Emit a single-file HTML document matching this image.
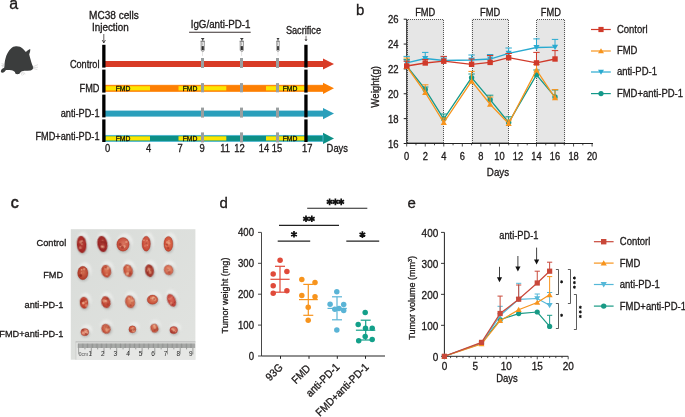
<!DOCTYPE html>
<html><head><meta charset="utf-8"><style>
html,body{margin:0;padding:0;background:#fff;width:685px;height:417px;overflow:hidden}
svg{display:block;will-change:transform;opacity:0.999}
text{font-family:"Liberation Sans",sans-serif;stroke:currentColor;stroke-width:0.28px;paint-order:stroke}
</style></head><body>
<svg width="685" height="417" viewBox="0 0 685 417">
<rect width="685" height="417" fill="#fff"/>
<text class="noscale" x="9.2" y="8.6" font-size="16" fill="#1e1a1a">a</text>
<path d="M16,46.3 C19,46.2 21,47 22.3,48.2 C23.8,49.6 25,51 25.9,51.9 C27.2,50.8 28.8,49.6 30.2,49.1 C30.5,50.8 29.8,53 29.2,54.3 C29.6,56.5 30.6,59.5 31.5,62.7 C32.3,65 33.2,66.8 33.3,68 C33,69.2 32,70 30.7,70.4 C28.5,70.6 26.5,70.5 24.5,70.8 C22.5,71.1 21.3,71.5 20.6,72.2 C20,73.5 19,74.2 17.4,74.2 C15.8,74.2 15,73.4 15,72.2 C14.2,71.2 13,70.6 11.5,70.3 C9.5,70 7.5,69.9 6,70 C5,71.5 3.8,72.8 2.4,72.8 C1,72.8 0.6,71.6 1,70.5 C1.6,69.3 2.8,68.5 4.3,67.6 C4.4,64.5 4.7,61 5.5,58.4 C6.5,54.5 8.3,51 11,48.5 C12.5,47.1 14.2,46.3 16,46.3 Z" fill="#3b3d3d"/>
<path d="M32.8,66.8 L38,64.6 M33,67.6 L38,67.2 M32.8,68.3 L37.4,69.6 M20.8,72 L22.2,75.6 M21.8,71.6 L24,75 M23,71.4 L25.2,74.2" stroke="#bdbdbd" stroke-width="0.45"/>
<path d="M4.6,64.6 L1.6,63.6 M4.6,65.2 L1.4,65.6 M4.6,65.8 L2,67" stroke="#b0b0b0" stroke-width="0.45"/>
<text transform="translate(99.5,68.2) scale(0.915,1)" font-size="10.05" text-anchor="end" fill="#1e1a1a">Control</text>
<text transform="translate(99.5,92.2) scale(0.915,1)" font-size="10.05" text-anchor="end" fill="#1e1a1a">FMD</text>
<text transform="translate(99.5,116.6) scale(0.915,1)" font-size="10.05" text-anchor="end" fill="#1e1a1a">anti-PD-1</text>
<text transform="translate(99.5,140) scale(0.915,1)" font-size="10.05" text-anchor="end" fill="#1e1a1a">FMD+anti-PD-1</text>
<text x="89" y="18.8" font-size="10" textLength="49.8" lengthAdjust="spacingAndGlyphs" fill="#1e1a1a">MC38 cells</text>
<text x="92" y="30.5" font-size="10" textLength="36.8" lengthAdjust="spacingAndGlyphs" fill="#1e1a1a">Injection</text>
<line x1="103.8" y1="34" x2="103.8" y2="42.5" stroke="#1e1a1a" stroke-width="0.7"/>
<path d="M102.2,40 L103.8,43 L105.4,40" fill="none" stroke="#1e1a1a" stroke-width="0.7"/>
<text x="190.7" y="28.1" font-size="10" textLength="59.7" lengthAdjust="spacingAndGlyphs" fill="#1e1a1a">IgG/anti-PD-1</text>
<line x1="189.1" y1="32.2" x2="250.7" y2="32.2" stroke="#3a3030" stroke-width="1.1"/>
<text x="285.9" y="34.4" font-size="10" textLength="35.1" lengthAdjust="spacingAndGlyphs" fill="#1e1a1a">Sacrifice</text>
<line x1="306" y1="35.8" x2="306" y2="40.8" stroke="#1e1a1a" stroke-width="0.6"/>
<path d="M305,39 L306,41 L307,39" fill="none" stroke="#1e1a1a" stroke-width="0.6"/>
<rect x="104" y="61" width="219" height="6" fill="#d83b26"/>
<path d="M323,58.4 L334,64.0 L323,69.6 Z" fill="#d83b26"/>
<rect x="104" y="85.3" width="219" height="6" fill="#fd7f03"/>
<path d="M323,82.7 L334,88.3 L323,93.89999999999999 Z" fill="#fd7f03"/>
<rect x="104" y="110.6" width="219" height="6" fill="#2a9fbb"/>
<path d="M323,108.0 L334,113.6 L323,119.19999999999999 Z" fill="#2a9fbb"/>
<rect x="104" y="135.4" width="219" height="6" fill="#0c8f86"/>
<path d="M323,132.8 L334,138.4 L323,144.0 Z" fill="#0c8f86"/>
<rect x="104" y="85.3" width="219" height="6" fill="none" stroke="#fd7f03" stroke-width="0.9"/>
<rect x="105.5" y="86.2" width="44.5" height="4.2" fill="#fce600"/>
<rect x="178.5" y="86.2" width="47.80000000000001" height="4.2" fill="#fce600"/>
<rect x="266" y="86.2" width="39" height="4.2" fill="#fce600"/>
<text transform="translate(123,90.8) scale(0.915,1)" font-size="7.43" text-anchor="middle" fill="#111" stroke="#111" stroke-width="0.15">FMD</text>
<text transform="translate(190,90.8) scale(0.915,1)" font-size="7.43" text-anchor="middle" fill="#111" stroke="#111" stroke-width="0.15">FMD</text>
<text transform="translate(290,90.8) scale(0.915,1)" font-size="7.43" text-anchor="middle" fill="#111" stroke="#111" stroke-width="0.15">FMD</text>
<rect x="104" y="135.4" width="219" height="6" fill="none" stroke="#4fb8d2" stroke-width="0.9"/>
<rect x="105.5" y="136.3" width="44.5" height="4.2" fill="#fce600"/>
<rect x="178.5" y="136.3" width="47.80000000000001" height="4.2" fill="#fce600"/>
<rect x="266" y="136.3" width="39" height="4.2" fill="#fce600"/>
<text transform="translate(123,140.9) scale(0.915,1)" font-size="7.43" text-anchor="middle" fill="#111" stroke="#111" stroke-width="0.15">FMD</text>
<text transform="translate(190,140.9) scale(0.915,1)" font-size="7.43" text-anchor="middle" fill="#111" stroke="#111" stroke-width="0.15">FMD</text>
<text transform="translate(290,140.9) scale(0.915,1)" font-size="7.43" text-anchor="middle" fill="#111" stroke="#111" stroke-width="0.15">FMD</text>
<rect x="201.0" y="58" width="3" height="10" fill="#9a9fa0"/>
<rect x="201.0" y="83.1" width="3" height="9.200000000000003" fill="#9a9fa0"/>
<rect x="201.0" y="107.6" width="3" height="10.0" fill="#9a9fa0"/>
<rect x="201.0" y="132.4" width="3" height="10.0" fill="#9a9fa0"/>
<rect x="240.0" y="58" width="3" height="10" fill="#9a9fa0"/>
<rect x="240.0" y="83.1" width="3" height="9.200000000000003" fill="#9a9fa0"/>
<rect x="240.0" y="107.6" width="3" height="10.0" fill="#9a9fa0"/>
<rect x="240.0" y="132.4" width="3" height="10.0" fill="#9a9fa0"/>
<rect x="276.0" y="58" width="3" height="10" fill="#9a9fa0"/>
<rect x="276.0" y="83.1" width="3" height="9.200000000000003" fill="#9a9fa0"/>
<rect x="276.0" y="107.6" width="3" height="10.0" fill="#9a9fa0"/>
<rect x="276.0" y="132.4" width="3" height="10.0" fill="#9a9fa0"/>
<g transform="translate(202.7,0) scale(1.0,1)"><rect x="-1.5" y="38" width="3" height="1" fill="#3a3a3a"/><path d="M-0.9,39 L0.9,39 L0.5,40.8 L-0.5,40.8 Z" fill="#4a4a4a"/><rect x="-2.2" y="40.8" width="4.4" height="0.8" fill="#555"/><path d="M-1.6,41.6 L1.6,41.6 L1.6,50.4 L0.5,51.4 L-0.5,51.4 L-1.6,50.4 Z" fill="#f4f4f4" stroke="#555" stroke-width="0.6"/><rect x="-1.1" y="46.1" width="2.2" height="4.1" fill="#2e2e2e"/><rect x="-0.8" y="42.5" width="0.5" height="3" fill="#777"/><rect x="-0.25" y="51.4" width="0.5" height="4.5" fill="#c4c4c4"/></g>
<g transform="translate(241.8,0) scale(1.0,1)"><rect x="-1.5" y="38" width="3" height="1" fill="#3a3a3a"/><path d="M-0.9,39 L0.9,39 L0.5,40.8 L-0.5,40.8 Z" fill="#4a4a4a"/><rect x="-2.2" y="40.8" width="4.4" height="0.8" fill="#555"/><path d="M-1.6,41.6 L1.6,41.6 L1.6,50.4 L0.5,51.4 L-0.5,51.4 L-1.6,50.4 Z" fill="#f4f4f4" stroke="#555" stroke-width="0.6"/><rect x="-1.1" y="46.1" width="2.2" height="4.1" fill="#2e2e2e"/><rect x="-0.8" y="42.5" width="0.5" height="3" fill="#777"/><rect x="-0.25" y="51.4" width="0.5" height="4.5" fill="#c4c4c4"/></g>
<g transform="translate(278,0) scale(0.8,1)"><rect x="-1.5" y="38" width="3" height="1" fill="#3a3a3a"/><path d="M-0.9,39 L0.9,39 L0.5,40.8 L-0.5,40.8 Z" fill="#4a4a4a"/><rect x="-2.2" y="40.8" width="4.4" height="0.8" fill="#555"/><path d="M-1.6,41.6 L1.6,41.6 L1.6,50.4 L0.5,51.4 L-0.5,51.4 L-1.6,50.4 Z" fill="#f4f4f4" stroke="#555" stroke-width="0.6"/><rect x="-1.1" y="46.1" width="2.2" height="4.1" fill="#2e2e2e"/><rect x="-0.8" y="42.5" width="0.5" height="3" fill="#777"/><rect x="-0.25" y="51.4" width="0.5" height="4.5" fill="#c4c4c4"/></g>
<rect x="102.2" y="44.8" width="3.3" height="22.799999999999997" fill="#000"/>
<rect x="102.2" y="69.6" width="3.3" height="23.0" fill="#000"/>
<rect x="102.2" y="94.6" width="3.3" height="22.80000000000001" fill="#000"/>
<rect x="102.2" y="119.4" width="3.3" height="22.599999999999994" fill="#000"/>
<rect x="304.3" y="44.8" width="3.3" height="22.799999999999997" fill="#000"/>
<rect x="304.3" y="69.6" width="3.3" height="23.0" fill="#000"/>
<rect x="304.3" y="94.6" width="3.3" height="22.80000000000001" fill="#000"/>
<rect x="304.3" y="119.4" width="3.3" height="22.599999999999994" fill="#000"/>
<text transform="translate(107.6,151.8) scale(0.915,1)" font-size="10.27" text-anchor="middle" fill="#1e1a1a">0</text>
<text transform="translate(148.7,151.8) scale(0.915,1)" font-size="10.27" text-anchor="middle" fill="#1e1a1a">4</text>
<text transform="translate(180,151.8) scale(0.915,1)" font-size="10.27" text-anchor="middle" fill="#1e1a1a">7</text>
<text transform="translate(202,151.8) scale(0.915,1)" font-size="10.27" text-anchor="middle" fill="#1e1a1a">9</text>
<text transform="translate(225,151.8) scale(0.915,1)" font-size="10.27" text-anchor="middle" fill="#1e1a1a">11</text>
<text transform="translate(239.4,151.8) scale(0.915,1)" font-size="10.27" text-anchor="middle" fill="#1e1a1a">12</text>
<text transform="translate(264,151.8) scale(0.915,1)" font-size="10.27" text-anchor="middle" fill="#1e1a1a">14</text>
<text transform="translate(277,151.8) scale(0.915,1)" font-size="10.27" text-anchor="middle" fill="#1e1a1a">15</text>
<text transform="translate(307.3,151.8) scale(0.915,1)" font-size="10.27" text-anchor="middle" fill="#1e1a1a">17</text>
<text transform="translate(326.6,151.8) scale(0.915,1)" font-size="10.27" fill="#1e1a1a">Days</text>
<text class="noscale" x="356" y="15.3" font-size="15" fill="#1e1a1a">b</text>
<rect x="406.7" y="19.2" width="37.079999999999984" height="124.10000000000001" fill="#e6e6e6"/>
<path d="M407.5,143 L407.5,19.5 L443.5,19.5 L443.5,143 M407.5,142.5 L443.5,142.5" fill="none" stroke="#444" stroke-width="0.9" stroke-dasharray="1,1"/>
<text transform="translate(425.24,15.7) scale(0.915,1)" font-size="10.16" text-anchor="middle" fill="#1e1a1a">FMD</text>
<rect x="471.59" y="18.6" width="37.079999999999984" height="124.70000000000002" fill="#e6e6e6"/>
<path d="M472.5,143 L472.5,19.5 L508.5,19.5 L508.5,143 M472.5,142.5 L508.5,142.5" fill="none" stroke="#444" stroke-width="0.9" stroke-dasharray="1,1"/>
<text transform="translate(490.13,15.7) scale(0.915,1)" font-size="10.16" text-anchor="middle" fill="#1e1a1a">FMD</text>
<rect x="536.48" y="19.4" width="28.736999999999966" height="123.9" fill="#e6e6e6"/>
<path d="M536.5,143 L536.5,19.5 L564.5,19.5 L564.5,143 M536.5,142.5 L564.5,142.5" fill="none" stroke="#444" stroke-width="0.9" stroke-dasharray="1,1"/>
<text transform="translate(550.8485000000001,15.7) scale(0.915,1)" font-size="10.16" text-anchor="middle" fill="#1e1a1a">FMD</text>
<line x1="406.7" y1="19" x2="406.7" y2="143.5" stroke="#222" stroke-width="1"/>
<line x1="406.7" y1="143.5" x2="593" y2="143.5" stroke="#222" stroke-width="1"/>
<line x1="403.7" y1="143.5" x2="406.7" y2="143.5" stroke="#222" stroke-width="1"/>
<text transform="translate(398.6,147.7) scale(0.915,1)" font-size="10.38" text-anchor="end" fill="#1e1a1a">16</text>
<line x1="403.7" y1="118.64" x2="406.7" y2="118.64" stroke="#222" stroke-width="1"/>
<text transform="translate(398.6,122.84) scale(0.915,1)" font-size="10.38" text-anchor="end" fill="#1e1a1a">18</text>
<line x1="403.7" y1="93.78" x2="406.7" y2="93.78" stroke="#222" stroke-width="1"/>
<text transform="translate(398.6,97.98) scale(0.915,1)" font-size="10.38" text-anchor="end" fill="#1e1a1a">20</text>
<line x1="403.7" y1="68.92" x2="406.7" y2="68.92" stroke="#222" stroke-width="1"/>
<text transform="translate(398.6,73.12) scale(0.915,1)" font-size="10.38" text-anchor="end" fill="#1e1a1a">22</text>
<line x1="403.7" y1="44.06" x2="406.7" y2="44.06" stroke="#222" stroke-width="1"/>
<text transform="translate(398.6,48.260000000000005) scale(0.915,1)" font-size="10.38" text-anchor="end" fill="#1e1a1a">24</text>
<line x1="403.7" y1="19.200000000000003" x2="406.7" y2="19.200000000000003" stroke="#222" stroke-width="1"/>
<text transform="translate(398.6,23.400000000000002) scale(0.915,1)" font-size="10.38" text-anchor="end" fill="#1e1a1a">26</text>
<line x1="406.7" y1="143.5" x2="406.7" y2="146.5" stroke="#222" stroke-width="0.8"/>
<text transform="translate(406.7,159.6) scale(0.915,1)" font-size="10.16" text-anchor="middle" fill="#1e1a1a">0</text>
<line x1="415.96999999999997" y1="143.5" x2="415.96999999999997" y2="145.3" stroke="#222" stroke-width="0.8"/>
<line x1="425.24" y1="143.5" x2="425.24" y2="146.5" stroke="#222" stroke-width="0.8"/>
<text transform="translate(425.24,159.6) scale(0.915,1)" font-size="10.16" text-anchor="middle" fill="#1e1a1a">2</text>
<line x1="434.51" y1="143.5" x2="434.51" y2="145.3" stroke="#222" stroke-width="0.8"/>
<line x1="443.78" y1="143.5" x2="443.78" y2="146.5" stroke="#222" stroke-width="0.8"/>
<text transform="translate(443.78,159.6) scale(0.915,1)" font-size="10.16" text-anchor="middle" fill="#1e1a1a">4</text>
<line x1="453.04999999999995" y1="143.5" x2="453.04999999999995" y2="145.3" stroke="#222" stroke-width="0.8"/>
<line x1="462.32" y1="143.5" x2="462.32" y2="146.5" stroke="#222" stroke-width="0.8"/>
<text transform="translate(462.32,159.6) scale(0.915,1)" font-size="10.16" text-anchor="middle" fill="#1e1a1a">6</text>
<line x1="471.59" y1="143.5" x2="471.59" y2="145.3" stroke="#222" stroke-width="0.8"/>
<line x1="480.86" y1="143.5" x2="480.86" y2="146.5" stroke="#222" stroke-width="0.8"/>
<text transform="translate(480.86,159.6) scale(0.915,1)" font-size="10.16" text-anchor="middle" fill="#1e1a1a">8</text>
<line x1="490.13" y1="143.5" x2="490.13" y2="145.3" stroke="#222" stroke-width="0.8"/>
<line x1="499.4" y1="143.5" x2="499.4" y2="146.5" stroke="#222" stroke-width="0.8"/>
<text transform="translate(499.4,159.6) scale(0.915,1)" font-size="10.16" text-anchor="middle" fill="#1e1a1a">10</text>
<line x1="508.66999999999996" y1="143.5" x2="508.66999999999996" y2="145.3" stroke="#222" stroke-width="0.8"/>
<line x1="517.9399999999999" y1="143.5" x2="517.9399999999999" y2="146.5" stroke="#222" stroke-width="0.8"/>
<text transform="translate(517.9399999999999,159.6) scale(0.915,1)" font-size="10.16" text-anchor="middle" fill="#1e1a1a">12</text>
<line x1="527.21" y1="143.5" x2="527.21" y2="145.3" stroke="#222" stroke-width="0.8"/>
<line x1="536.48" y1="143.5" x2="536.48" y2="146.5" stroke="#222" stroke-width="0.8"/>
<text transform="translate(536.48,159.6) scale(0.915,1)" font-size="10.16" text-anchor="middle" fill="#1e1a1a">14</text>
<line x1="545.75" y1="143.5" x2="545.75" y2="145.3" stroke="#222" stroke-width="0.8"/>
<line x1="555.02" y1="143.5" x2="555.02" y2="146.5" stroke="#222" stroke-width="0.8"/>
<text transform="translate(555.02,159.6) scale(0.915,1)" font-size="10.16" text-anchor="middle" fill="#1e1a1a">16</text>
<line x1="564.29" y1="143.5" x2="564.29" y2="145.3" stroke="#222" stroke-width="0.8"/>
<line x1="573.56" y1="143.5" x2="573.56" y2="146.5" stroke="#222" stroke-width="0.8"/>
<text transform="translate(573.56,159.6) scale(0.915,1)" font-size="10.16" text-anchor="middle" fill="#1e1a1a">18</text>
<line x1="582.8299999999999" y1="143.5" x2="582.8299999999999" y2="145.3" stroke="#222" stroke-width="0.8"/>
<line x1="592.0999999999999" y1="143.5" x2="592.0999999999999" y2="146.5" stroke="#222" stroke-width="0.8"/>
<text transform="translate(592.0999999999999,159.6) scale(0.915,1)" font-size="10.16" text-anchor="middle" fill="#1e1a1a">20</text>
<text transform="translate(498,176) scale(0.915,1)" font-size="10.71" text-anchor="middle" fill="#1e1a1a">Days</text>
<text transform="translate(378.8,86.8) rotate(-90) scale(0.915,1)" font-size="10.60" text-anchor="middle" fill="#1e1a1a">Weight(g)</text>
<polyline points="406.7,66 425.24,89.4 443.78,119 471.59,77.6 490.13,99.7 508.66999999999996,122.5 536.48,74.8 555.02,96.9" fill="none" stroke="#14998a" stroke-width="1.3"/>
<line x1="406.7" y1="66" x2="406.7" y2="59.4" stroke="#14998a" stroke-width="1"/>
<line x1="403.5" y1="59.4" x2="409.9" y2="59.4" stroke="#14998a" stroke-width="1"/>
<circle cx="406.7" cy="66" r="2.7" fill="#14998a"/>
<line x1="425.24" y1="89.4" x2="425.24" y2="87" stroke="#14998a" stroke-width="1"/>
<line x1="422.04" y1="87" x2="428.44" y2="87" stroke="#14998a" stroke-width="1"/>
<circle cx="425.24" cy="89.4" r="2.7" fill="#14998a"/>
<line x1="443.78" y1="119" x2="443.78" y2="114" stroke="#14998a" stroke-width="1"/>
<line x1="440.58" y1="114" x2="446.97999999999996" y2="114" stroke="#14998a" stroke-width="1"/>
<circle cx="443.78" cy="119" r="2.7" fill="#14998a"/>
<line x1="471.59" y1="77.6" x2="471.59" y2="74" stroke="#14998a" stroke-width="1"/>
<line x1="468.39" y1="74" x2="474.78999999999996" y2="74" stroke="#14998a" stroke-width="1"/>
<circle cx="471.59" cy="77.6" r="2.7" fill="#14998a"/>
<line x1="490.13" y1="99.7" x2="490.13" y2="95.2" stroke="#14998a" stroke-width="1"/>
<line x1="486.93" y1="95.2" x2="493.33" y2="95.2" stroke="#14998a" stroke-width="1"/>
<circle cx="490.13" cy="99.7" r="2.7" fill="#14998a"/>
<line x1="508.66999999999996" y1="122.5" x2="508.66999999999996" y2="116.8" stroke="#14998a" stroke-width="1"/>
<line x1="505.46999999999997" y1="116.8" x2="511.86999999999995" y2="116.8" stroke="#14998a" stroke-width="1"/>
<circle cx="508.66999999999996" cy="122.5" r="2.7" fill="#14998a"/>
<line x1="536.48" y1="74.8" x2="536.48" y2="70" stroke="#14998a" stroke-width="1"/>
<line x1="533.28" y1="70" x2="539.6800000000001" y2="70" stroke="#14998a" stroke-width="1"/>
<circle cx="536.48" cy="74.8" r="2.7" fill="#14998a"/>
<line x1="555.02" y1="96.9" x2="555.02" y2="90" stroke="#14998a" stroke-width="1"/>
<line x1="551.8199999999999" y1="90" x2="558.22" y2="90" stroke="#14998a" stroke-width="1"/>
<circle cx="555.02" cy="96.9" r="2.7" fill="#14998a"/>
<polyline points="406.7,62.8 425.24,58.5 443.78,60.5 471.59,60 490.13,59 508.66999999999996,53.3 536.48,47.5 555.02,47.1" fill="none" stroke="#29aad0" stroke-width="1.3"/>
<line x1="406.7" y1="62.8" x2="406.7" y2="56.4" stroke="#29aad0" stroke-width="1"/>
<line x1="403.5" y1="56.4" x2="409.9" y2="56.4" stroke="#29aad0" stroke-width="1"/>
<path d="M406.7,65.77 L409.805,60.37 L403.59499999999997,60.37 Z" fill="#29aad0"/>
<line x1="425.24" y1="58.5" x2="425.24" y2="52.4" stroke="#29aad0" stroke-width="1"/>
<line x1="422.04" y1="52.4" x2="428.44" y2="52.4" stroke="#29aad0" stroke-width="1"/>
<path d="M425.24,61.47 L428.345,56.07 L422.135,56.07 Z" fill="#29aad0"/>
<line x1="443.78" y1="60.5" x2="443.78" y2="57" stroke="#29aad0" stroke-width="1"/>
<line x1="440.58" y1="57" x2="446.97999999999996" y2="57" stroke="#29aad0" stroke-width="1"/>
<path d="M443.78,63.47 L446.885,58.07 L440.67499999999995,58.07 Z" fill="#29aad0"/>
<line x1="471.59" y1="60" x2="471.59" y2="55" stroke="#29aad0" stroke-width="1"/>
<line x1="468.39" y1="55" x2="474.78999999999996" y2="55" stroke="#29aad0" stroke-width="1"/>
<path d="M471.59,62.97 L474.695,57.57 L468.48499999999996,57.57 Z" fill="#29aad0"/>
<line x1="490.13" y1="59" x2="490.13" y2="54.5" stroke="#29aad0" stroke-width="1"/>
<line x1="486.93" y1="54.5" x2="493.33" y2="54.5" stroke="#29aad0" stroke-width="1"/>
<path d="M490.13,61.97 L493.235,56.57 L487.025,56.57 Z" fill="#29aad0"/>
<line x1="508.66999999999996" y1="53.3" x2="508.66999999999996" y2="48" stroke="#29aad0" stroke-width="1"/>
<line x1="505.46999999999997" y1="48" x2="511.86999999999995" y2="48" stroke="#29aad0" stroke-width="1"/>
<path d="M508.66999999999996,56.269999999999996 L511.775,50.87 L505.56499999999994,50.87 Z" fill="#29aad0"/>
<line x1="536.48" y1="47.5" x2="536.48" y2="38.9" stroke="#29aad0" stroke-width="1"/>
<line x1="533.28" y1="38.9" x2="539.6800000000001" y2="38.9" stroke="#29aad0" stroke-width="1"/>
<path d="M536.48,50.47 L539.585,45.07 L533.375,45.07 Z" fill="#29aad0"/>
<line x1="555.02" y1="47.1" x2="555.02" y2="39.4" stroke="#29aad0" stroke-width="1"/>
<line x1="551.8199999999999" y1="39.4" x2="558.22" y2="39.4" stroke="#29aad0" stroke-width="1"/>
<path d="M555.02,50.07 L558.125,44.67 L551.915,44.67 Z" fill="#29aad0"/>
<polyline points="406.7,66.5 425.24,92.5 443.78,122.5 471.59,81.2 490.13,104.2 508.66999999999996,123.6 536.48,70 555.02,97.8" fill="none" stroke="#f7941d" stroke-width="1.3"/>
<line x1="406.7" y1="66.5" x2="406.7" y2="58" stroke="#f7941d" stroke-width="1"/>
<line x1="403.5" y1="58" x2="409.9" y2="58" stroke="#f7941d" stroke-width="1"/>
<path d="M406.7,63.53 L409.805,68.93 L403.59499999999997,68.93 Z" fill="#f7941d"/>
<line x1="425.24" y1="92.5" x2="425.24" y2="84.8" stroke="#f7941d" stroke-width="1"/>
<line x1="422.04" y1="84.8" x2="428.44" y2="84.8" stroke="#f7941d" stroke-width="1"/>
<path d="M425.24,89.53 L428.345,94.93 L422.135,94.93 Z" fill="#f7941d"/>
<line x1="443.78" y1="122.5" x2="443.78" y2="118" stroke="#f7941d" stroke-width="1"/>
<line x1="440.58" y1="118" x2="446.97999999999996" y2="118" stroke="#f7941d" stroke-width="1"/>
<path d="M443.78,119.53 L446.885,124.93 L440.67499999999995,124.93 Z" fill="#f7941d"/>
<line x1="471.59" y1="81.2" x2="471.59" y2="71.4" stroke="#f7941d" stroke-width="1"/>
<line x1="468.39" y1="71.4" x2="474.78999999999996" y2="71.4" stroke="#f7941d" stroke-width="1"/>
<path d="M471.59,78.23 L474.695,83.63000000000001 L468.48499999999996,83.63000000000001 Z" fill="#f7941d"/>
<line x1="490.13" y1="104.2" x2="490.13" y2="97" stroke="#f7941d" stroke-width="1"/>
<line x1="486.93" y1="97" x2="493.33" y2="97" stroke="#f7941d" stroke-width="1"/>
<path d="M490.13,101.23 L493.235,106.63000000000001 L487.025,106.63000000000001 Z" fill="#f7941d"/>
<line x1="508.66999999999996" y1="123.6" x2="508.66999999999996" y2="120" stroke="#f7941d" stroke-width="1"/>
<line x1="505.46999999999997" y1="120" x2="511.86999999999995" y2="120" stroke="#f7941d" stroke-width="1"/>
<path d="M508.66999999999996,120.63 L511.775,126.03 L505.56499999999994,126.03 Z" fill="#f7941d"/>
<line x1="536.48" y1="70" x2="536.48" y2="64.5" stroke="#f7941d" stroke-width="1"/>
<line x1="533.28" y1="64.5" x2="539.6800000000001" y2="64.5" stroke="#f7941d" stroke-width="1"/>
<path d="M536.48,67.03 L539.585,72.43 L533.375,72.43 Z" fill="#f7941d"/>
<line x1="555.02" y1="97.8" x2="555.02" y2="89.6" stroke="#f7941d" stroke-width="1"/>
<line x1="551.8199999999999" y1="89.6" x2="558.22" y2="89.6" stroke="#f7941d" stroke-width="1"/>
<path d="M555.02,94.83 L558.125,100.23 L551.915,100.23 Z" fill="#f7941d"/>
<polyline points="406.7,66 425.24,63 443.78,61.2 471.59,64.3 490.13,62.4 508.66999999999996,57.7 536.48,62.9 555.02,59" fill="none" stroke="#d03a2a" stroke-width="1.3"/>
<line x1="406.7" y1="66" x2="406.7" y2="61.2" stroke="#d03a2a" stroke-width="1"/>
<line x1="403.5" y1="61.2" x2="409.9" y2="61.2" stroke="#d03a2a" stroke-width="1"/>
<rect x="404.0" y="63.3" width="5.4" height="5.4" fill="#d03a2a"/>
<line x1="425.24" y1="63" x2="425.24" y2="59.5" stroke="#d03a2a" stroke-width="1"/>
<line x1="422.04" y1="59.5" x2="428.44" y2="59.5" stroke="#d03a2a" stroke-width="1"/>
<rect x="422.54" y="60.3" width="5.4" height="5.4" fill="#d03a2a"/>
<line x1="443.78" y1="61.2" x2="443.78" y2="56.4" stroke="#d03a2a" stroke-width="1"/>
<line x1="440.58" y1="56.4" x2="446.97999999999996" y2="56.4" stroke="#d03a2a" stroke-width="1"/>
<rect x="441.08" y="58.5" width="5.4" height="5.4" fill="#d03a2a"/>
<line x1="471.59" y1="64.3" x2="471.59" y2="59" stroke="#d03a2a" stroke-width="1"/>
<line x1="468.39" y1="59" x2="474.78999999999996" y2="59" stroke="#d03a2a" stroke-width="1"/>
<rect x="468.89" y="61.599999999999994" width="5.4" height="5.4" fill="#d03a2a"/>
<line x1="490.13" y1="62.4" x2="490.13" y2="55.5" stroke="#d03a2a" stroke-width="1"/>
<line x1="486.93" y1="55.5" x2="493.33" y2="55.5" stroke="#d03a2a" stroke-width="1"/>
<rect x="487.43" y="59.699999999999996" width="5.4" height="5.4" fill="#d03a2a"/>
<line x1="508.66999999999996" y1="57.7" x2="508.66999999999996" y2="53.5" stroke="#d03a2a" stroke-width="1"/>
<line x1="505.46999999999997" y1="53.5" x2="511.86999999999995" y2="53.5" stroke="#d03a2a" stroke-width="1"/>
<rect x="505.96999999999997" y="55.0" width="5.4" height="5.4" fill="#d03a2a"/>
<line x1="536.48" y1="62.9" x2="536.48" y2="52.4" stroke="#d03a2a" stroke-width="1"/>
<line x1="533.28" y1="52.4" x2="539.6800000000001" y2="52.4" stroke="#d03a2a" stroke-width="1"/>
<rect x="533.78" y="60.199999999999996" width="5.4" height="5.4" fill="#d03a2a"/>
<line x1="555.02" y1="59" x2="555.02" y2="50.6" stroke="#d03a2a" stroke-width="1"/>
<line x1="551.8199999999999" y1="50.6" x2="558.22" y2="50.6" stroke="#d03a2a" stroke-width="1"/>
<rect x="552.3199999999999" y="56.3" width="5.4" height="5.4" fill="#d03a2a"/>
<line x1="591" y1="29.5" x2="610.8" y2="29.5" stroke="#d03a2a" stroke-width="1.2"/>
<rect x="598.4" y="26.9" width="5.2" height="5.2" fill="#d03a2a"/>
<text transform="translate(616.9,32.8) scale(0.915,1)" font-size="10.38" fill="#1e1a1a">Contorl</text>
<line x1="591" y1="51" x2="610.8" y2="51" stroke="#f7941d" stroke-width="1.2"/>
<path d="M601,48.14 L603.99,53.34 L598.01,53.34 Z" fill="#f7941d"/>
<text transform="translate(616.9,54.3) scale(0.915,1)" font-size="10.38" fill="#1e1a1a">FMD</text>
<line x1="591" y1="72" x2="610.8" y2="72" stroke="#29aad0" stroke-width="1.2"/>
<path d="M601,74.86 L603.99,69.66 L598.01,69.66 Z" fill="#29aad0"/>
<text transform="translate(616.9,75.3) scale(0.915,1)" font-size="10.38" fill="#1e1a1a">anti-PD-1</text>
<line x1="591" y1="93.6" x2="610.8" y2="93.6" stroke="#14998a" stroke-width="1.2"/>
<circle cx="601" cy="93.6" r="2.6" fill="#14998a"/>
<text transform="translate(616.9,96.89999999999999) scale(0.915,1)" font-size="10.38" fill="#1e1a1a">FMD+anti-PD-1</text>
<text class="noscale" x="10.8" y="207.5" font-size="16" fill="#1e1a1a" style="stroke-width:0.5px">c</text>
<text transform="translate(66.2,245.8) scale(0.95,1)" font-size="9.68" text-anchor="end" fill="#1e1a1a" class="c95">Control</text>
<text transform="translate(63.1,278.1) scale(0.95,1)" font-size="9.68" text-anchor="end" fill="#1e1a1a" class="c95">FMD</text>
<text transform="translate(63.4,307.5) scale(0.95,1)" font-size="9.68" text-anchor="end" fill="#1e1a1a" class="c95">anti-PD-1</text>
<text transform="translate(63.4,336.8) scale(0.95,1)" font-size="9.68" text-anchor="end" fill="#1e1a1a" class="c95">FMD+anti-PD-1</text>
<defs><linearGradient id="bg" x1="0" y1="0" x2="1" y2="1"><stop offset="0" stop-color="#d9dcd9"/><stop offset="1" stop-color="#e1e3e0"/></linearGradient><filter id="blur1" x="-50%" y="-50%" width="200%" height="200%"><feGaussianBlur stdDeviation="1.2"/></filter><filter id="blur2" x="-20%" y="-20%" width="140%" height="140%"><feGaussianBlur stdDeviation="0.45"/></filter></defs>
<rect x="70.8" y="229.2" width="124.6" height="130.5" fill="url(#bg)"/>
<radialGradient id="tg1" cx="0.55" cy="0.45" r="0.6"><stop offset="0" stop-color="#b8443a"/><stop offset="1" stop-color="#9c1c1c"/></radialGradient>
<ellipse cx="83.6" cy="242.0" rx="6.1" ry="10.0" transform="rotate(-5 81.6 244.5)" fill="#eeefed" opacity="0.8" filter="url(#blur1)"/>
<ellipse cx="82.19999999999999" cy="245.5" rx="5.199999999999999" ry="9.1" transform="rotate(-5 81.6 244.5)" fill="#8a8a88" opacity="0.45" filter="url(#blur1)"/>
<g transform="rotate(-5 81.6 244.5)" filter="url(#blur2)">
<ellipse cx="81.6" cy="244.5" rx="4.6" ry="8.5" fill="url(#tg1)" stroke="#8e2a22" stroke-width="0.5" stroke-opacity="0.6"/>
<circle cx="81.96" cy="243.77" r="1.12" fill="#f4c0a0" opacity="0.45"/>
<circle cx="80.11" cy="247.70" r="1.34" fill="#f4c0a0" opacity="0.45"/>
<circle cx="82.38" cy="241.03" r="1.07" fill="#f4c0a0" opacity="0.45"/>
<circle cx="80.73" cy="241.95" r="1.46" fill="#f4c0a0" opacity="0.45"/>
<circle cx="84.34" cy="239.85" r="1.39" fill="#7a1812" opacity="0.35"/>
<circle cx="82.17" cy="243.29" r="0.93" fill="#7a1812" opacity="0.35"/>
</g>
<radialGradient id="tg2" cx="0.55" cy="0.45" r="0.6"><stop offset="0" stop-color="#b04038"/><stop offset="1" stop-color="#921a1c"/></radialGradient>
<ellipse cx="104.4" cy="241.5" rx="6.3" ry="9.5" transform="rotate(-10 102.4 244)" fill="#eeefed" opacity="0.8" filter="url(#blur1)"/>
<ellipse cx="103.0" cy="245" rx="5.3999999999999995" ry="8.6" transform="rotate(-10 102.4 244)" fill="#8a8a88" opacity="0.45" filter="url(#blur1)"/>
<g transform="rotate(-10 102.4 244)" filter="url(#blur2)">
<ellipse cx="102.4" cy="244" rx="4.8" ry="8" fill="url(#tg2)" stroke="#8e2a22" stroke-width="0.5" stroke-opacity="0.6"/>
<circle cx="102.52" cy="246.94" r="1.46" fill="#f4c0a0" opacity="0.45"/>
<circle cx="101.29" cy="246.55" r="1.23" fill="#f4c0a0" opacity="0.45"/>
<circle cx="103.25" cy="240.26" r="0.62" fill="#f4c0a0" opacity="0.45"/>
<circle cx="101.79" cy="246.37" r="0.83" fill="#f4c0a0" opacity="0.45"/>
<circle cx="102.41" cy="242.25" r="1.38" fill="#7a1812" opacity="0.35"/>
<circle cx="104.96" cy="243.06" r="1.50" fill="#7a1812" opacity="0.35"/>
</g>
<radialGradient id="tg3" cx="0.55" cy="0.45" r="0.6"><stop offset="0" stop-color="#d87660"/><stop offset="1" stop-color="#c04432"/></radialGradient>
<ellipse cx="125" cy="241.9" rx="7.7" ry="8.3" transform="rotate(0 123 244.4)" fill="#eeefed" opacity="0.8" filter="url(#blur1)"/>
<ellipse cx="123.6" cy="245.4" rx="6.8" ry="7.3999999999999995" transform="rotate(0 123 244.4)" fill="#8a8a88" opacity="0.45" filter="url(#blur1)"/>
<g transform="rotate(0 123 244.4)" filter="url(#blur2)">
<ellipse cx="123" cy="244.4" rx="6.2" ry="6.8" fill="url(#tg3)" stroke="#8e2a22" stroke-width="0.5" stroke-opacity="0.6"/>
<circle cx="124.45" cy="247.17" r="0.76" fill="#f4c0a0" opacity="0.45"/>
<circle cx="126.40" cy="241.90" r="1.20" fill="#f4c0a0" opacity="0.45"/>
<circle cx="120.22" cy="246.50" r="0.74" fill="#f4c0a0" opacity="0.45"/>
<circle cx="124.41" cy="246.23" r="1.29" fill="#f4c0a0" opacity="0.45"/>
<circle cx="122.56" cy="247.38" r="1.49" fill="#7a1812" opacity="0.35"/>
<circle cx="120.14" cy="244.54" r="1.47" fill="#7a1812" opacity="0.35"/>
</g>
<radialGradient id="tg4" cx="0.55" cy="0.45" r="0.6"><stop offset="0" stop-color="#dc7058"/><stop offset="1" stop-color="#c2402e"/></radialGradient>
<ellipse cx="148.2" cy="241.2" rx="5.7" ry="9.0" transform="rotate(0 146.2 243.7)" fill="#eeefed" opacity="0.8" filter="url(#blur1)"/>
<ellipse cx="146.79999999999998" cy="244.7" rx="4.8" ry="8.1" transform="rotate(0 146.2 243.7)" fill="#8a8a88" opacity="0.45" filter="url(#blur1)"/>
<g transform="rotate(0 146.2 243.7)" filter="url(#blur2)">
<ellipse cx="146.2" cy="243.7" rx="4.2" ry="7.5" fill="url(#tg4)" stroke="#8e2a22" stroke-width="0.5" stroke-opacity="0.6"/>
<circle cx="143.95" cy="240.21" r="0.95" fill="#f4c0a0" opacity="0.45"/>
<circle cx="147.05" cy="240.45" r="0.70" fill="#f4c0a0" opacity="0.45"/>
<circle cx="144.96" cy="246.02" r="0.73" fill="#f4c0a0" opacity="0.45"/>
<circle cx="147.31" cy="245.16" r="0.72" fill="#f4c0a0" opacity="0.45"/>
<circle cx="146.38" cy="243.23" r="1.03" fill="#7a1812" opacity="0.35"/>
<circle cx="148.70" cy="240.04" r="0.72" fill="#7a1812" opacity="0.35"/>
</g>
<radialGradient id="tg5" cx="0.55" cy="0.45" r="0.6"><stop offset="0" stop-color="#e07858"/><stop offset="1" stop-color="#c8442e"/></radialGradient>
<ellipse cx="170.4" cy="241.4" rx="6.0" ry="9.0" transform="rotate(0 168.4 243.9)" fill="#eeefed" opacity="0.8" filter="url(#blur1)"/>
<ellipse cx="169.0" cy="244.9" rx="5.1" ry="8.1" transform="rotate(0 168.4 243.9)" fill="#8a8a88" opacity="0.45" filter="url(#blur1)"/>
<g transform="rotate(0 168.4 243.9)" filter="url(#blur2)">
<ellipse cx="168.4" cy="243.9" rx="4.5" ry="7.5" fill="url(#tg5)" stroke="#8e2a22" stroke-width="0.5" stroke-opacity="0.6"/>
<circle cx="169.09" cy="243.26" r="1.25" fill="#f4c0a0" opacity="0.45"/>
<circle cx="166.25" cy="245.68" r="0.94" fill="#f4c0a0" opacity="0.45"/>
<circle cx="168.93" cy="240.93" r="0.91" fill="#f4c0a0" opacity="0.45"/>
<circle cx="167.25" cy="242.37" r="1.25" fill="#f4c0a0" opacity="0.45"/>
<circle cx="168.25" cy="248.07" r="1.17" fill="#7a1812" opacity="0.35"/>
<circle cx="166.91" cy="244.92" r="1.12" fill="#7a1812" opacity="0.35"/>
</g>
<radialGradient id="tg6" cx="0.55" cy="0.45" r="0.6"><stop offset="0" stop-color="#d06c50"/><stop offset="1" stop-color="#ac3424"/></radialGradient>
<ellipse cx="84.8" cy="270.5" rx="6.7" ry="8.2" transform="rotate(0 82.8 273)" fill="#eeefed" opacity="0.8" filter="url(#blur1)"/>
<ellipse cx="83.39999999999999" cy="274" rx="5.8" ry="7.3" transform="rotate(0 82.8 273)" fill="#8a8a88" opacity="0.45" filter="url(#blur1)"/>
<g transform="rotate(0 82.8 273)" filter="url(#blur2)">
<ellipse cx="82.8" cy="273" rx="5.2" ry="6.7" fill="url(#tg6)" stroke="#8e2a22" stroke-width="0.5" stroke-opacity="0.6"/>
<circle cx="81.50" cy="272.90" r="0.67" fill="#f4c0a0" opacity="0.45"/>
<circle cx="81.88" cy="269.56" r="0.61" fill="#f4c0a0" opacity="0.45"/>
<circle cx="81.56" cy="269.93" r="0.88" fill="#f4c0a0" opacity="0.45"/>
<circle cx="84.19" cy="269.27" r="1.16" fill="#f4c0a0" opacity="0.45"/>
<circle cx="80.52" cy="275.37" r="1.29" fill="#7a1812" opacity="0.35"/>
<circle cx="81.00" cy="275.80" r="1.27" fill="#7a1812" opacity="0.35"/>
</g>
<radialGradient id="tg7" cx="0.55" cy="0.45" r="0.6"><stop offset="0" stop-color="#dc7858"/><stop offset="1" stop-color="#bc3e2a"/></radialGradient>
<ellipse cx="108.2" cy="268.7" rx="6.1" ry="7.7" transform="rotate(-12 106.2 271.2)" fill="#eeefed" opacity="0.8" filter="url(#blur1)"/>
<ellipse cx="106.8" cy="272.2" rx="5.199999999999999" ry="6.8" transform="rotate(-12 106.2 271.2)" fill="#8a8a88" opacity="0.45" filter="url(#blur1)"/>
<g transform="rotate(-12 106.2 271.2)" filter="url(#blur2)">
<ellipse cx="106.2" cy="271.2" rx="4.6" ry="6.2" fill="url(#tg7)" stroke="#8e2a22" stroke-width="0.5" stroke-opacity="0.6"/>
<circle cx="108.62" cy="267.89" r="1.25" fill="#f4c0a0" opacity="0.45"/>
<circle cx="106.12" cy="274.49" r="0.97" fill="#f4c0a0" opacity="0.45"/>
<circle cx="108.32" cy="268.66" r="1.50" fill="#f4c0a0" opacity="0.45"/>
<circle cx="105.76" cy="268.84" r="0.91" fill="#f4c0a0" opacity="0.45"/>
<circle cx="106.92" cy="267.73" r="1.01" fill="#7a1812" opacity="0.35"/>
<circle cx="103.50" cy="268.00" r="0.84" fill="#7a1812" opacity="0.35"/>
</g>
<radialGradient id="tg8" cx="0.55" cy="0.45" r="0.6"><stop offset="0" stop-color="#dc8060"/><stop offset="1" stop-color="#c0442e"/></radialGradient>
<ellipse cx="130.1" cy="268.2" rx="5.9" ry="7.7" transform="rotate(-18 128.1 270.7)" fill="#eeefed" opacity="0.8" filter="url(#blur1)"/>
<ellipse cx="128.7" cy="271.7" rx="5.0" ry="6.8" transform="rotate(-18 128.1 270.7)" fill="#8a8a88" opacity="0.45" filter="url(#blur1)"/>
<g transform="rotate(-18 128.1 270.7)" filter="url(#blur2)">
<ellipse cx="128.1" cy="270.7" rx="4.4" ry="6.2" fill="url(#tg8)" stroke="#8e2a22" stroke-width="0.5" stroke-opacity="0.6"/>
<circle cx="126.77" cy="273.92" r="1.45" fill="#f4c0a0" opacity="0.45"/>
<circle cx="125.79" cy="273.28" r="1.24" fill="#f4c0a0" opacity="0.45"/>
<circle cx="128.97" cy="267.06" r="1.35" fill="#f4c0a0" opacity="0.45"/>
<circle cx="127.51" cy="272.98" r="1.08" fill="#f4c0a0" opacity="0.45"/>
<circle cx="129.48" cy="272.40" r="0.97" fill="#7a1812" opacity="0.35"/>
<circle cx="129.00" cy="274.19" r="1.41" fill="#7a1812" opacity="0.35"/>
</g>
<radialGradient id="tg9" cx="0.55" cy="0.45" r="0.6"><stop offset="0" stop-color="#c05840"/><stop offset="1" stop-color="#962a24"/></radialGradient>
<ellipse cx="151.5" cy="268.2" rx="5.7" ry="7.7" transform="rotate(-10 149.5 270.7)" fill="#eeefed" opacity="0.8" filter="url(#blur1)"/>
<ellipse cx="150.1" cy="271.7" rx="4.8" ry="6.8" transform="rotate(-10 149.5 270.7)" fill="#8a8a88" opacity="0.45" filter="url(#blur1)"/>
<g transform="rotate(-10 149.5 270.7)" filter="url(#blur2)">
<ellipse cx="149.5" cy="270.7" rx="4.2" ry="6.2" fill="url(#tg9)" stroke="#8e2a22" stroke-width="0.5" stroke-opacity="0.6"/>
<circle cx="147.52" cy="270.21" r="0.82" fill="#f4c0a0" opacity="0.45"/>
<circle cx="149.25" cy="268.89" r="1.38" fill="#f4c0a0" opacity="0.45"/>
<circle cx="149.78" cy="272.52" r="1.43" fill="#f4c0a0" opacity="0.45"/>
<circle cx="149.48" cy="270.47" r="0.72" fill="#f4c0a0" opacity="0.45"/>
<circle cx="150.93" cy="267.50" r="0.99" fill="#7a1812" opacity="0.35"/>
<circle cx="147.82" cy="272.40" r="1.07" fill="#7a1812" opacity="0.35"/>
</g>
<radialGradient id="tg10" cx="0.55" cy="0.45" r="0.6"><stop offset="0" stop-color="#e89474"/><stop offset="1" stop-color="#cc5840"/></radialGradient>
<ellipse cx="170.6" cy="267.5" rx="5.9" ry="6.5" transform="rotate(-20 168.6 270)" fill="#eeefed" opacity="0.8" filter="url(#blur1)"/>
<ellipse cx="169.2" cy="271" rx="5.0" ry="5.6" transform="rotate(-20 168.6 270)" fill="#8a8a88" opacity="0.45" filter="url(#blur1)"/>
<g transform="rotate(-20 168.6 270)" filter="url(#blur2)">
<ellipse cx="168.6" cy="270" rx="4.4" ry="5" fill="url(#tg10)" stroke="#8e2a22" stroke-width="0.5" stroke-opacity="0.6"/>
<circle cx="167.53" cy="270.01" r="1.11" fill="#f4c0a0" opacity="0.45"/>
<circle cx="168.41" cy="270.52" r="1.04" fill="#f4c0a0" opacity="0.45"/>
<circle cx="168.69" cy="268.21" r="0.70" fill="#f4c0a0" opacity="0.45"/>
<circle cx="167.41" cy="271.68" r="0.62" fill="#f4c0a0" opacity="0.45"/>
<circle cx="167.82" cy="269.53" r="1.14" fill="#7a1812" opacity="0.35"/>
<circle cx="168.25" cy="272.13" r="1.45" fill="#7a1812" opacity="0.35"/>
</g>
<radialGradient id="tg11" cx="0.55" cy="0.45" r="0.6"><stop offset="0" stop-color="#d46048"/><stop offset="1" stop-color="#b83424"/></radialGradient>
<ellipse cx="86" cy="300.2" rx="5.5" ry="7.3" transform="rotate(-5 84 302.7)" fill="#eeefed" opacity="0.8" filter="url(#blur1)"/>
<ellipse cx="84.6" cy="303.7" rx="4.6" ry="6.3999999999999995" transform="rotate(-5 84 302.7)" fill="#8a8a88" opacity="0.45" filter="url(#blur1)"/>
<g transform="rotate(-5 84 302.7)" filter="url(#blur2)">
<ellipse cx="84" cy="302.7" rx="4" ry="5.8" fill="url(#tg11)" stroke="#8e2a22" stroke-width="0.5" stroke-opacity="0.6"/>
<circle cx="82.99" cy="302.99" r="1.24" fill="#f4c0a0" opacity="0.45"/>
<circle cx="86.02" cy="301.79" r="1.08" fill="#f4c0a0" opacity="0.45"/>
<circle cx="83.45" cy="303.05" r="1.36" fill="#f4c0a0" opacity="0.45"/>
<circle cx="86.17" cy="305.68" r="1.44" fill="#f4c0a0" opacity="0.45"/>
<circle cx="81.86" cy="300.90" r="1.46" fill="#7a1812" opacity="0.35"/>
<circle cx="84.30" cy="300.23" r="1.20" fill="#7a1812" opacity="0.35"/>
</g>
<radialGradient id="tg12" cx="0.55" cy="0.45" r="0.6"><stop offset="0" stop-color="#d46650"/><stop offset="1" stop-color="#b43626"/></radialGradient>
<ellipse cx="107.9" cy="299.7" rx="5.8" ry="7.4" transform="rotate(-15 105.9 302.2)" fill="#eeefed" opacity="0.8" filter="url(#blur1)"/>
<ellipse cx="106.5" cy="303.2" rx="4.8999999999999995" ry="6.5" transform="rotate(-15 105.9 302.2)" fill="#8a8a88" opacity="0.45" filter="url(#blur1)"/>
<g transform="rotate(-15 105.9 302.2)" filter="url(#blur2)">
<ellipse cx="105.9" cy="302.2" rx="4.3" ry="5.9" fill="url(#tg12)" stroke="#8e2a22" stroke-width="0.5" stroke-opacity="0.6"/>
<circle cx="104.23" cy="300.00" r="1.36" fill="#f4c0a0" opacity="0.45"/>
<circle cx="106.09" cy="300.65" r="0.90" fill="#f4c0a0" opacity="0.45"/>
<circle cx="106.10" cy="300.98" r="1.24" fill="#f4c0a0" opacity="0.45"/>
<circle cx="104.11" cy="301.23" r="0.85" fill="#f4c0a0" opacity="0.45"/>
<circle cx="107.22" cy="304.58" r="1.11" fill="#7a1812" opacity="0.35"/>
<circle cx="107.93" cy="299.15" r="1.24" fill="#7a1812" opacity="0.35"/>
</g>
<radialGradient id="tg13" cx="0.55" cy="0.45" r="0.6"><stop offset="0" stop-color="#e08c68"/><stop offset="1" stop-color="#c4503a"/></radialGradient>
<ellipse cx="132.1" cy="299.3" rx="6.1" ry="7.7" transform="rotate(-15 130.1 301.8)" fill="#eeefed" opacity="0.8" filter="url(#blur1)"/>
<ellipse cx="130.7" cy="302.8" rx="5.199999999999999" ry="6.8" transform="rotate(-15 130.1 301.8)" fill="#8a8a88" opacity="0.45" filter="url(#blur1)"/>
<g transform="rotate(-15 130.1 301.8)" filter="url(#blur2)">
<ellipse cx="130.1" cy="301.8" rx="4.6" ry="6.2" fill="url(#tg13)" stroke="#8e2a22" stroke-width="0.5" stroke-opacity="0.6"/>
<circle cx="130.34" cy="299.00" r="0.85" fill="#f4c0a0" opacity="0.45"/>
<circle cx="129.75" cy="298.21" r="1.05" fill="#f4c0a0" opacity="0.45"/>
<circle cx="132.39" cy="301.27" r="1.35" fill="#f4c0a0" opacity="0.45"/>
<circle cx="132.43" cy="298.23" r="0.61" fill="#f4c0a0" opacity="0.45"/>
<circle cx="129.75" cy="305.22" r="1.06" fill="#7a1812" opacity="0.35"/>
<circle cx="131.74" cy="303.08" r="0.74" fill="#7a1812" opacity="0.35"/>
</g>
<radialGradient id="tg14" cx="0.55" cy="0.45" r="0.6"><stop offset="0" stop-color="#e08464"/><stop offset="1" stop-color="#c0442e"/></radialGradient>
<ellipse cx="154.5" cy="297.2" rx="6.8" ry="6.1" transform="rotate(0 152.5 299.7)" fill="#eeefed" opacity="0.8" filter="url(#blur1)"/>
<ellipse cx="153.1" cy="300.7" rx="5.8999999999999995" ry="5.199999999999999" transform="rotate(0 152.5 299.7)" fill="#8a8a88" opacity="0.45" filter="url(#blur1)"/>
<g transform="rotate(0 152.5 299.7)" filter="url(#blur2)">
<ellipse cx="152.5" cy="299.7" rx="5.3" ry="4.6" fill="url(#tg14)" stroke="#8e2a22" stroke-width="0.5" stroke-opacity="0.6"/>
<circle cx="152.97" cy="298.02" r="1.47" fill="#f4c0a0" opacity="0.45"/>
<circle cx="154.97" cy="299.52" r="1.20" fill="#f4c0a0" opacity="0.45"/>
<circle cx="150.84" cy="298.16" r="0.86" fill="#f4c0a0" opacity="0.45"/>
<circle cx="153.62" cy="298.11" r="1.47" fill="#f4c0a0" opacity="0.45"/>
<circle cx="149.77" cy="298.01" r="0.77" fill="#7a1812" opacity="0.35"/>
<circle cx="154.22" cy="298.96" r="1.08" fill="#7a1812" opacity="0.35"/>
</g>
<radialGradient id="tg15" cx="0.55" cy="0.45" r="0.6"><stop offset="0" stop-color="#d86858"/><stop offset="1" stop-color="#bc3830"/></radialGradient>
<ellipse cx="173.5" cy="297.8" rx="5.3" ry="8.1" transform="rotate(-25 171.5 300.3)" fill="#eeefed" opacity="0.8" filter="url(#blur1)"/>
<ellipse cx="172.1" cy="301.3" rx="4.3999999999999995" ry="7.199999999999999" transform="rotate(-25 171.5 300.3)" fill="#8a8a88" opacity="0.45" filter="url(#blur1)"/>
<g transform="rotate(-25 171.5 300.3)" filter="url(#blur2)">
<ellipse cx="171.5" cy="300.3" rx="3.8" ry="6.6" fill="url(#tg15)" stroke="#8e2a22" stroke-width="0.5" stroke-opacity="0.6"/>
<circle cx="169.96" cy="302.80" r="1.39" fill="#f4c0a0" opacity="0.45"/>
<circle cx="171.02" cy="298.53" r="0.78" fill="#f4c0a0" opacity="0.45"/>
<circle cx="169.75" cy="298.04" r="0.78" fill="#f4c0a0" opacity="0.45"/>
<circle cx="172.98" cy="297.85" r="0.77" fill="#f4c0a0" opacity="0.45"/>
<circle cx="173.45" cy="303.60" r="0.78" fill="#7a1812" opacity="0.35"/>
<circle cx="170.69" cy="304.17" r="1.01" fill="#7a1812" opacity="0.35"/>
</g>
<radialGradient id="tg16" cx="0.55" cy="0.45" r="0.6"><stop offset="0" stop-color="#e4907a"/><stop offset="1" stop-color="#c8543f"/></radialGradient>
<ellipse cx="86.8" cy="329.6" rx="5.5" ry="5.1" transform="rotate(0 84.8 332.1)" fill="#eeefed" opacity="0.8" filter="url(#blur1)"/>
<ellipse cx="85.39999999999999" cy="333.1" rx="4.6" ry="4.2" transform="rotate(0 84.8 332.1)" fill="#8a8a88" opacity="0.45" filter="url(#blur1)"/>
<g transform="rotate(0 84.8 332.1)" filter="url(#blur2)">
<ellipse cx="84.8" cy="332.1" rx="4" ry="3.6" fill="url(#tg16)" stroke="#8e2a22" stroke-width="0.5" stroke-opacity="0.6"/>
<circle cx="86.54" cy="330.79" r="0.70" fill="#f4c0a0" opacity="0.45"/>
<circle cx="83.09" cy="333.20" r="1.37" fill="#f4c0a0" opacity="0.45"/>
<circle cx="86.96" cy="332.87" r="1.18" fill="#f4c0a0" opacity="0.45"/>
<circle cx="85.62" cy="332.03" r="1.09" fill="#f4c0a0" opacity="0.45"/>
<circle cx="83.09" cy="330.12" r="1.39" fill="#7a1812" opacity="0.35"/>
<circle cx="86.25" cy="334.11" r="1.29" fill="#7a1812" opacity="0.35"/>
</g>
<radialGradient id="tg17" cx="0.55" cy="0.45" r="0.6"><stop offset="0" stop-color="#dc8060"/><stop offset="1" stop-color="#bc4632"/></radialGradient>
<ellipse cx="108" cy="326.4" rx="5.8" ry="6.4" transform="rotate(-30 106 328.9)" fill="#eeefed" opacity="0.8" filter="url(#blur1)"/>
<ellipse cx="106.6" cy="329.9" rx="4.8999999999999995" ry="5.5" transform="rotate(-30 106 328.9)" fill="#8a8a88" opacity="0.45" filter="url(#blur1)"/>
<g transform="rotate(-30 106 328.9)" filter="url(#blur2)">
<ellipse cx="106" cy="328.9" rx="4.3" ry="4.9" fill="url(#tg17)" stroke="#8e2a22" stroke-width="0.5" stroke-opacity="0.6"/>
<circle cx="106.05" cy="329.47" r="0.87" fill="#f4c0a0" opacity="0.45"/>
<circle cx="108.03" cy="330.25" r="1.28" fill="#f4c0a0" opacity="0.45"/>
<circle cx="105.80" cy="330.87" r="1.26" fill="#f4c0a0" opacity="0.45"/>
<circle cx="106.44" cy="326.58" r="1.01" fill="#f4c0a0" opacity="0.45"/>
<circle cx="108.43" cy="329.24" r="1.00" fill="#7a1812" opacity="0.35"/>
<circle cx="106.66" cy="326.80" r="0.96" fill="#7a1812" opacity="0.35"/>
</g>
<radialGradient id="tg18" cx="0.55" cy="0.45" r="0.6"><stop offset="0" stop-color="#e08464"/><stop offset="1" stop-color="#c44a34"/></radialGradient>
<ellipse cx="134.4" cy="326.8" rx="5.0" ry="5.0" transform="rotate(0 132.4 329.3)" fill="#eeefed" opacity="0.8" filter="url(#blur1)"/>
<ellipse cx="133.0" cy="330.3" rx="4.1" ry="4.1" transform="rotate(0 132.4 329.3)" fill="#8a8a88" opacity="0.45" filter="url(#blur1)"/>
<g transform="rotate(0 132.4 329.3)" filter="url(#blur2)">
<ellipse cx="132.4" cy="329.3" rx="3.5" ry="3.5" fill="url(#tg18)" stroke="#8e2a22" stroke-width="0.5" stroke-opacity="0.6"/>
<circle cx="132.73" cy="330.48" r="0.84" fill="#f4c0a0" opacity="0.45"/>
<circle cx="133.88" cy="330.93" r="1.46" fill="#f4c0a0" opacity="0.45"/>
<circle cx="132.90" cy="328.58" r="1.34" fill="#f4c0a0" opacity="0.45"/>
<circle cx="130.91" cy="329.50" r="0.72" fill="#f4c0a0" opacity="0.45"/>
<circle cx="133.61" cy="329.58" r="1.33" fill="#7a1812" opacity="0.35"/>
<circle cx="130.88" cy="330.27" r="1.34" fill="#7a1812" opacity="0.35"/>
</g>
<radialGradient id="tg19" cx="0.55" cy="0.45" r="0.6"><stop offset="0" stop-color="#e08868"/><stop offset="1" stop-color="#c04a34"/></radialGradient>
<ellipse cx="156.4" cy="325.7" rx="5.1" ry="5.8" transform="rotate(-20 154.4 328.2)" fill="#eeefed" opacity="0.8" filter="url(#blur1)"/>
<ellipse cx="155.0" cy="329.2" rx="4.2" ry="4.8999999999999995" transform="rotate(-20 154.4 328.2)" fill="#8a8a88" opacity="0.45" filter="url(#blur1)"/>
<g transform="rotate(-20 154.4 328.2)" filter="url(#blur2)">
<ellipse cx="154.4" cy="328.2" rx="3.6" ry="4.3" fill="url(#tg19)" stroke="#8e2a22" stroke-width="0.5" stroke-opacity="0.6"/>
<circle cx="154.70" cy="328.34" r="0.99" fill="#f4c0a0" opacity="0.45"/>
<circle cx="155.45" cy="327.80" r="0.73" fill="#f4c0a0" opacity="0.45"/>
<circle cx="154.94" cy="325.86" r="1.50" fill="#f4c0a0" opacity="0.45"/>
<circle cx="155.21" cy="325.89" r="0.78" fill="#f4c0a0" opacity="0.45"/>
<circle cx="156.42" cy="329.68" r="1.20" fill="#7a1812" opacity="0.35"/>
<circle cx="153.99" cy="329.84" r="1.32" fill="#7a1812" opacity="0.35"/>
</g>
<radialGradient id="tg20" cx="0.55" cy="0.45" r="0.6"><stop offset="0" stop-color="#dc8068"/><stop offset="1" stop-color="#c0463a"/></radialGradient>
<ellipse cx="175.7" cy="327.6" rx="5.4" ry="5.2" transform="rotate(0 173.7 330.1)" fill="#eeefed" opacity="0.8" filter="url(#blur1)"/>
<ellipse cx="174.29999999999998" cy="331.1" rx="4.5" ry="4.3" transform="rotate(0 173.7 330.1)" fill="#8a8a88" opacity="0.45" filter="url(#blur1)"/>
<g transform="rotate(0 173.7 330.1)" filter="url(#blur2)">
<ellipse cx="173.7" cy="330.1" rx="3.9" ry="3.7" fill="url(#tg20)" stroke="#8e2a22" stroke-width="0.5" stroke-opacity="0.6"/>
<circle cx="175.44" cy="331.66" r="0.64" fill="#f4c0a0" opacity="0.45"/>
<circle cx="172.52" cy="328.97" r="1.26" fill="#f4c0a0" opacity="0.45"/>
<circle cx="173.68" cy="330.42" r="1.29" fill="#f4c0a0" opacity="0.45"/>
<circle cx="174.07" cy="331.62" r="0.69" fill="#f4c0a0" opacity="0.45"/>
<circle cx="174.20" cy="332.14" r="1.21" fill="#7a1812" opacity="0.35"/>
<circle cx="171.89" cy="331.72" r="1.48" fill="#7a1812" opacity="0.35"/>
</g>
<rect x="75.7" y="341.6" width="119.6" height="18.1" fill="#e6e7e5"/>
<line x1="75.7" y1="341.9" x2="195.4" y2="341.9" stroke="#a8aaa8" stroke-width="0.8"/>
<line x1="75.9" y1="341.6" x2="75.9" y2="359.7" stroke="#c0c2c0" stroke-width="0.6"/>
<rect x="77" y="343.6" width="118.4" height="4.4" fill="#b8bab8" opacity="0.45"/>
<line x1="78.60" y1="343.4" x2="78.60" y2="354.4" stroke="#606260" stroke-width="0.55"/>
<line x1="79.87" y1="343.4" x2="79.87" y2="348.0" stroke="#606260" stroke-width="0.55"/>
<line x1="81.14" y1="343.4" x2="81.14" y2="348.0" stroke="#606260" stroke-width="0.55"/>
<line x1="82.41" y1="343.4" x2="82.41" y2="348.0" stroke="#606260" stroke-width="0.55"/>
<line x1="83.68" y1="343.4" x2="83.68" y2="348.0" stroke="#606260" stroke-width="0.55"/>
<line x1="84.95" y1="343.4" x2="84.95" y2="349.4" stroke="#606260" stroke-width="0.55"/>
<line x1="86.22" y1="343.4" x2="86.22" y2="348.0" stroke="#606260" stroke-width="0.55"/>
<line x1="87.49" y1="343.4" x2="87.49" y2="348.0" stroke="#606260" stroke-width="0.55"/>
<line x1="88.76" y1="343.4" x2="88.76" y2="348.0" stroke="#606260" stroke-width="0.55"/>
<line x1="90.03" y1="343.4" x2="90.03" y2="348.0" stroke="#606260" stroke-width="0.55"/>
<line x1="91.30" y1="343.4" x2="91.30" y2="354.4" stroke="#606260" stroke-width="0.55"/>
<line x1="92.57" y1="343.4" x2="92.57" y2="348.0" stroke="#606260" stroke-width="0.55"/>
<line x1="93.84" y1="343.4" x2="93.84" y2="348.0" stroke="#606260" stroke-width="0.55"/>
<line x1="95.11" y1="343.4" x2="95.11" y2="348.0" stroke="#606260" stroke-width="0.55"/>
<line x1="96.38" y1="343.4" x2="96.38" y2="348.0" stroke="#606260" stroke-width="0.55"/>
<line x1="97.65" y1="343.4" x2="97.65" y2="349.4" stroke="#606260" stroke-width="0.55"/>
<line x1="98.92" y1="343.4" x2="98.92" y2="348.0" stroke="#606260" stroke-width="0.55"/>
<line x1="100.19" y1="343.4" x2="100.19" y2="348.0" stroke="#606260" stroke-width="0.55"/>
<line x1="101.46" y1="343.4" x2="101.46" y2="348.0" stroke="#606260" stroke-width="0.55"/>
<line x1="102.73" y1="343.4" x2="102.73" y2="348.0" stroke="#606260" stroke-width="0.55"/>
<line x1="104.00" y1="343.4" x2="104.00" y2="354.4" stroke="#606260" stroke-width="0.55"/>
<line x1="105.27" y1="343.4" x2="105.27" y2="348.0" stroke="#606260" stroke-width="0.55"/>
<line x1="106.54" y1="343.4" x2="106.54" y2="348.0" stroke="#606260" stroke-width="0.55"/>
<line x1="107.81" y1="343.4" x2="107.81" y2="348.0" stroke="#606260" stroke-width="0.55"/>
<line x1="109.08" y1="343.4" x2="109.08" y2="348.0" stroke="#606260" stroke-width="0.55"/>
<line x1="110.35" y1="343.4" x2="110.35" y2="349.4" stroke="#606260" stroke-width="0.55"/>
<line x1="111.62" y1="343.4" x2="111.62" y2="348.0" stroke="#606260" stroke-width="0.55"/>
<line x1="112.89" y1="343.4" x2="112.89" y2="348.0" stroke="#606260" stroke-width="0.55"/>
<line x1="114.16" y1="343.4" x2="114.16" y2="348.0" stroke="#606260" stroke-width="0.55"/>
<line x1="115.43" y1="343.4" x2="115.43" y2="348.0" stroke="#606260" stroke-width="0.55"/>
<line x1="116.70" y1="343.4" x2="116.70" y2="354.4" stroke="#606260" stroke-width="0.55"/>
<line x1="117.97" y1="343.4" x2="117.97" y2="348.0" stroke="#606260" stroke-width="0.55"/>
<line x1="119.24" y1="343.4" x2="119.24" y2="348.0" stroke="#606260" stroke-width="0.55"/>
<line x1="120.51" y1="343.4" x2="120.51" y2="348.0" stroke="#606260" stroke-width="0.55"/>
<line x1="121.78" y1="343.4" x2="121.78" y2="348.0" stroke="#606260" stroke-width="0.55"/>
<line x1="123.05" y1="343.4" x2="123.05" y2="349.4" stroke="#606260" stroke-width="0.55"/>
<line x1="124.32" y1="343.4" x2="124.32" y2="348.0" stroke="#606260" stroke-width="0.55"/>
<line x1="125.59" y1="343.4" x2="125.59" y2="348.0" stroke="#606260" stroke-width="0.55"/>
<line x1="126.86" y1="343.4" x2="126.86" y2="348.0" stroke="#606260" stroke-width="0.55"/>
<line x1="128.13" y1="343.4" x2="128.13" y2="348.0" stroke="#606260" stroke-width="0.55"/>
<line x1="129.40" y1="343.4" x2="129.40" y2="354.4" stroke="#606260" stroke-width="0.55"/>
<line x1="130.67" y1="343.4" x2="130.67" y2="348.0" stroke="#606260" stroke-width="0.55"/>
<line x1="131.94" y1="343.4" x2="131.94" y2="348.0" stroke="#606260" stroke-width="0.55"/>
<line x1="133.21" y1="343.4" x2="133.21" y2="348.0" stroke="#606260" stroke-width="0.55"/>
<line x1="134.48" y1="343.4" x2="134.48" y2="348.0" stroke="#606260" stroke-width="0.55"/>
<line x1="135.75" y1="343.4" x2="135.75" y2="349.4" stroke="#606260" stroke-width="0.55"/>
<line x1="137.02" y1="343.4" x2="137.02" y2="348.0" stroke="#606260" stroke-width="0.55"/>
<line x1="138.29" y1="343.4" x2="138.29" y2="348.0" stroke="#606260" stroke-width="0.55"/>
<line x1="139.56" y1="343.4" x2="139.56" y2="348.0" stroke="#606260" stroke-width="0.55"/>
<line x1="140.83" y1="343.4" x2="140.83" y2="348.0" stroke="#606260" stroke-width="0.55"/>
<line x1="142.10" y1="343.4" x2="142.10" y2="354.4" stroke="#606260" stroke-width="0.55"/>
<line x1="143.37" y1="343.4" x2="143.37" y2="348.0" stroke="#606260" stroke-width="0.55"/>
<line x1="144.64" y1="343.4" x2="144.64" y2="348.0" stroke="#606260" stroke-width="0.55"/>
<line x1="145.91" y1="343.4" x2="145.91" y2="348.0" stroke="#606260" stroke-width="0.55"/>
<line x1="147.18" y1="343.4" x2="147.18" y2="348.0" stroke="#606260" stroke-width="0.55"/>
<line x1="148.45" y1="343.4" x2="148.45" y2="349.4" stroke="#606260" stroke-width="0.55"/>
<line x1="149.72" y1="343.4" x2="149.72" y2="348.0" stroke="#606260" stroke-width="0.55"/>
<line x1="150.99" y1="343.4" x2="150.99" y2="348.0" stroke="#606260" stroke-width="0.55"/>
<line x1="152.26" y1="343.4" x2="152.26" y2="348.0" stroke="#606260" stroke-width="0.55"/>
<line x1="153.53" y1="343.4" x2="153.53" y2="348.0" stroke="#606260" stroke-width="0.55"/>
<line x1="154.80" y1="343.4" x2="154.80" y2="354.4" stroke="#606260" stroke-width="0.55"/>
<line x1="156.07" y1="343.4" x2="156.07" y2="348.0" stroke="#606260" stroke-width="0.55"/>
<line x1="157.34" y1="343.4" x2="157.34" y2="348.0" stroke="#606260" stroke-width="0.55"/>
<line x1="158.61" y1="343.4" x2="158.61" y2="348.0" stroke="#606260" stroke-width="0.55"/>
<line x1="159.88" y1="343.4" x2="159.88" y2="348.0" stroke="#606260" stroke-width="0.55"/>
<line x1="161.15" y1="343.4" x2="161.15" y2="349.4" stroke="#606260" stroke-width="0.55"/>
<line x1="162.42" y1="343.4" x2="162.42" y2="348.0" stroke="#606260" stroke-width="0.55"/>
<line x1="163.69" y1="343.4" x2="163.69" y2="348.0" stroke="#606260" stroke-width="0.55"/>
<line x1="164.96" y1="343.4" x2="164.96" y2="348.0" stroke="#606260" stroke-width="0.55"/>
<line x1="166.23" y1="343.4" x2="166.23" y2="348.0" stroke="#606260" stroke-width="0.55"/>
<line x1="167.50" y1="343.4" x2="167.50" y2="354.4" stroke="#606260" stroke-width="0.55"/>
<line x1="168.77" y1="343.4" x2="168.77" y2="348.0" stroke="#606260" stroke-width="0.55"/>
<line x1="170.04" y1="343.4" x2="170.04" y2="348.0" stroke="#606260" stroke-width="0.55"/>
<line x1="171.31" y1="343.4" x2="171.31" y2="348.0" stroke="#606260" stroke-width="0.55"/>
<line x1="172.58" y1="343.4" x2="172.58" y2="348.0" stroke="#606260" stroke-width="0.55"/>
<line x1="173.85" y1="343.4" x2="173.85" y2="349.4" stroke="#606260" stroke-width="0.55"/>
<line x1="175.12" y1="343.4" x2="175.12" y2="348.0" stroke="#606260" stroke-width="0.55"/>
<line x1="176.39" y1="343.4" x2="176.39" y2="348.0" stroke="#606260" stroke-width="0.55"/>
<line x1="177.66" y1="343.4" x2="177.66" y2="348.0" stroke="#606260" stroke-width="0.55"/>
<line x1="178.93" y1="343.4" x2="178.93" y2="348.0" stroke="#606260" stroke-width="0.55"/>
<line x1="180.20" y1="343.4" x2="180.20" y2="354.4" stroke="#606260" stroke-width="0.55"/>
<line x1="181.47" y1="343.4" x2="181.47" y2="348.0" stroke="#606260" stroke-width="0.55"/>
<line x1="182.74" y1="343.4" x2="182.74" y2="348.0" stroke="#606260" stroke-width="0.55"/>
<line x1="184.01" y1="343.4" x2="184.01" y2="348.0" stroke="#606260" stroke-width="0.55"/>
<line x1="185.28" y1="343.4" x2="185.28" y2="348.0" stroke="#606260" stroke-width="0.55"/>
<line x1="186.55" y1="343.4" x2="186.55" y2="349.4" stroke="#606260" stroke-width="0.55"/>
<line x1="187.82" y1="343.4" x2="187.82" y2="348.0" stroke="#606260" stroke-width="0.55"/>
<line x1="189.09" y1="343.4" x2="189.09" y2="348.0" stroke="#606260" stroke-width="0.55"/>
<line x1="190.36" y1="343.4" x2="190.36" y2="348.0" stroke="#606260" stroke-width="0.55"/>
<line x1="191.63" y1="343.4" x2="191.63" y2="348.0" stroke="#606260" stroke-width="0.55"/>
<line x1="192.90" y1="343.4" x2="192.90" y2="354.4" stroke="#606260" stroke-width="0.55"/>
<line x1="194.17" y1="343.4" x2="194.17" y2="348.0" stroke="#606260" stroke-width="0.55"/>
<text transform="translate(90.3,355.9) scale(0.915,1)" font-size="6.99" fill="#2a2a2a" text-anchor="middle" style="stroke:none">1</text>
<text transform="translate(102.8,355.9) scale(0.915,1)" font-size="6.99" fill="#2a2a2a" text-anchor="middle" style="stroke:none">2</text>
<text transform="translate(115.4,355.9) scale(0.915,1)" font-size="6.99" fill="#2a2a2a" text-anchor="middle" style="stroke:none">3</text>
<text transform="translate(128.0,355.9) scale(0.915,1)" font-size="6.99" fill="#2a2a2a" text-anchor="middle" style="stroke:none">4</text>
<text transform="translate(140.5,355.9) scale(0.915,1)" font-size="6.99" fill="#2a2a2a" text-anchor="middle" style="stroke:none">5</text>
<text transform="translate(153.1,355.9) scale(0.915,1)" font-size="6.99" fill="#2a2a2a" text-anchor="middle" style="stroke:none">6</text>
<text transform="translate(165.6,355.9) scale(0.915,1)" font-size="6.99" fill="#2a2a2a" text-anchor="middle" style="stroke:none">7</text>
<text transform="translate(178.2,355.9) scale(0.915,1)" font-size="6.99" fill="#2a2a2a" text-anchor="middle" style="stroke:none">8</text>
<text transform="translate(190.7,355.9) scale(0.915,1)" font-size="6.99" fill="#2a2a2a" text-anchor="middle" style="stroke:none">9</text>
<text transform="translate(83.5,355.8) scale(0.915,1)" font-size="5.46" fill="#555" text-anchor="middle" style="stroke:none">0cm</text>
<text class="noscale" x="219.5" y="208.3" font-size="15" fill="#1e1a1a">d</text>
<line x1="261.5" y1="232.5" x2="261.5" y2="356" stroke="#333" stroke-width="0.9"/>
<line x1="261.5" y1="356" x2="385" y2="356" stroke="#222" stroke-width="1.1"/>
<line x1="258" y1="356.0" x2="261.5" y2="356.0" stroke="#333" stroke-width="0.9"/>
<text transform="translate(254,359.9) scale(0.915,1)" font-size="10.49" text-anchor="end" fill="#1e1a1a">0</text>
<line x1="258" y1="325.1" x2="261.5" y2="325.1" stroke="#333" stroke-width="0.9"/>
<text transform="translate(254,329.0) scale(0.915,1)" font-size="10.49" text-anchor="end" fill="#1e1a1a">100</text>
<line x1="258" y1="294.2" x2="261.5" y2="294.2" stroke="#333" stroke-width="0.9"/>
<text transform="translate(254,298.09999999999997) scale(0.915,1)" font-size="10.49" text-anchor="end" fill="#1e1a1a">200</text>
<line x1="258" y1="263.3" x2="261.5" y2="263.3" stroke="#333" stroke-width="0.9"/>
<text transform="translate(254,267.2) scale(0.915,1)" font-size="10.49" text-anchor="end" fill="#1e1a1a">300</text>
<line x1="258" y1="232.4" x2="261.5" y2="232.4" stroke="#333" stroke-width="0.9"/>
<text transform="translate(254,236.3) scale(0.915,1)" font-size="10.49" text-anchor="end" fill="#1e1a1a">400</text>
<line x1="280.5" y1="356" x2="280.5" y2="358.8" stroke="#222" stroke-width="1"/>
<line x1="309" y1="356" x2="309" y2="358.8" stroke="#222" stroke-width="1"/>
<line x1="337.3" y1="356" x2="337.3" y2="358.8" stroke="#222" stroke-width="1"/>
<line x1="365.5" y1="356" x2="365.5" y2="358.8" stroke="#222" stroke-width="1"/>
<text transform="translate(228.2,295.5) rotate(-90) scale(0.915,1)" font-size="9.95" text-anchor="middle" fill="#1e1a1a">Tumor weight (mg)</text>
<text transform="translate(283.40000000000003,368.1) rotate(-45) scale(0.915,1)" font-size="10.93" text-anchor="end" fill="#1e1a1a">93G</text>
<text transform="translate(311.2,369.1) rotate(-45) scale(0.915,1)" font-size="10.93" text-anchor="end" fill="#1e1a1a">FMD</text>
<text transform="translate(340.2,367.7) rotate(-45) scale(0.915,1)" font-size="10.93" text-anchor="end" fill="#1e1a1a">anti-PD-1</text>
<text transform="translate(369.40000000000003,367.7) rotate(-45) scale(0.915,1)" font-size="10.93" text-anchor="end" fill="#1e1a1a">FMD+anti-PD-1</text>
<circle cx="280.1" cy="260.2" r="2.75" fill="#e04a3a"/>
<circle cx="273.2" cy="273.9" r="2.75" fill="#e04a3a"/>
<circle cx="286.9" cy="271.4" r="2.75" fill="#e04a3a"/>
<circle cx="273.2" cy="285.7" r="2.75" fill="#e04a3a"/>
<circle cx="273.2" cy="293.3" r="2.75" fill="#e04a3a"/>
<circle cx="286.9" cy="290.8" r="2.75" fill="#e04a3a"/>
<line x1="270.4" y1="279.3" x2="289.6" y2="279.3" stroke="#e04a3a" stroke-width="1.2"/>
<line x1="280" y1="266.3" x2="280" y2="292.2" stroke="#e04a3a" stroke-width="1.2"/>
<line x1="275" y1="266.3" x2="285" y2="266.3" stroke="#e04a3a" stroke-width="1.2"/>
<line x1="275" y1="292.2" x2="285" y2="292.2" stroke="#e04a3a" stroke-width="1.2"/>
<circle cx="301.8" cy="279.5" r="2.75" fill="#f7941d"/>
<circle cx="315" cy="282.5" r="2.75" fill="#f7941d"/>
<circle cx="301.8" cy="295.5" r="2.75" fill="#f7941d"/>
<circle cx="315" cy="296.8" r="2.75" fill="#f7941d"/>
<circle cx="308.2" cy="307.3" r="2.75" fill="#f7941d"/>
<circle cx="308.2" cy="320.2" r="2.75" fill="#f7941d"/>
<line x1="299" y1="299.6" x2="317.8" y2="299.6" stroke="#f7941d" stroke-width="1.2"/>
<line x1="308.3" y1="284.4" x2="308.3" y2="315.3" stroke="#f7941d" stroke-width="1.2"/>
<line x1="303.3" y1="284.4" x2="313.3" y2="284.4" stroke="#f7941d" stroke-width="1.2"/>
<line x1="303.3" y1="315.3" x2="313.3" y2="315.3" stroke="#f7941d" stroke-width="1.2"/>
<circle cx="336.8" cy="291.7" r="2.75" fill="#5ab4d6"/>
<circle cx="330.1" cy="304.2" r="2.75" fill="#5ab4d6"/>
<circle cx="343.7" cy="304.6" r="2.75" fill="#5ab4d6"/>
<circle cx="334.8" cy="309.3" r="2.75" fill="#5ab4d6"/>
<circle cx="339" cy="308.4" r="2.75" fill="#5ab4d6"/>
<circle cx="343.7" cy="310.4" r="2.75" fill="#5ab4d6"/>
<circle cx="336.8" cy="329.9" r="2.75" fill="#5ab4d6"/>
<line x1="327.5" y1="308.4" x2="346.8" y2="308.4" stroke="#5ab4d6" stroke-width="1.2"/>
<line x1="337" y1="296.8" x2="337" y2="319.8" stroke="#5ab4d6" stroke-width="1.2"/>
<line x1="332" y1="296.8" x2="342" y2="296.8" stroke="#5ab4d6" stroke-width="1.2"/>
<line x1="332" y1="319.8" x2="342" y2="319.8" stroke="#5ab4d6" stroke-width="1.2"/>
<circle cx="365.2" cy="312.4" r="2.75" fill="#13a08a"/>
<circle cx="358.2" cy="324.4" r="2.75" fill="#13a08a"/>
<circle cx="365.5" cy="328.3" r="2.75" fill="#13a08a"/>
<circle cx="372.2" cy="328.3" r="2.75" fill="#13a08a"/>
<circle cx="365.2" cy="336.4" r="2.75" fill="#13a08a"/>
<circle cx="358.7" cy="340.8" r="2.75" fill="#13a08a"/>
<circle cx="372.2" cy="339.6" r="2.75" fill="#13a08a"/>
<line x1="355.9" y1="330.2" x2="375.3" y2="330.2" stroke="#13a08a" stroke-width="1.2"/>
<line x1="365.7" y1="320.2" x2="365.7" y2="340" stroke="#13a08a" stroke-width="1.2"/>
<line x1="360.7" y1="320.2" x2="370.7" y2="320.2" stroke="#13a08a" stroke-width="1.2"/>
<line x1="360.7" y1="340" x2="370.7" y2="340" stroke="#13a08a" stroke-width="1.2"/>
<line x1="277.7" y1="241.1" x2="310.2" y2="241.1" stroke="#222" stroke-width="1.15"/>
<path d="M294.00,231.00 L294.00,237.60 M291.14,232.65 L296.86,235.95 M296.86,232.65 L291.14,235.95" stroke="#111" stroke-width="1.7" stroke-linecap="butt"/>
<line x1="279" y1="225.3" x2="339" y2="225.3" stroke="#222" stroke-width="1.15"/>
<path d="M306.00,215.50 L306.00,222.10 M303.14,217.15 L308.86,220.45 M308.86,217.15 L303.14,220.45" stroke="#111" stroke-width="1.7" stroke-linecap="butt"/>
<path d="M311.80,215.50 L311.80,222.10 M308.94,217.15 L314.66,220.45 M314.66,217.15 L308.94,220.45" stroke="#111" stroke-width="1.7" stroke-linecap="butt"/>
<line x1="307.2" y1="208.2" x2="367.3" y2="208.2" stroke="#222" stroke-width="1.15"/>
<path d="M329.60,198.60 L329.60,205.20 M326.74,200.25 L332.46,203.55 M332.46,200.25 L326.74,203.55" stroke="#111" stroke-width="1.7" stroke-linecap="butt"/>
<path d="M335.40,198.60 L335.40,205.20 M332.54,200.25 L338.26,203.55 M338.26,200.25 L332.54,203.55" stroke="#111" stroke-width="1.7" stroke-linecap="butt"/>
<path d="M341.20,198.60 L341.20,205.20 M338.34,200.25 L344.06,203.55 M344.06,200.25 L338.34,203.55" stroke="#111" stroke-width="1.7" stroke-linecap="butt"/>
<line x1="346.3" y1="241.1" x2="379.2" y2="241.1" stroke="#222" stroke-width="1.15"/>
<path d="M362.40,231.30 L362.40,237.90 M359.54,232.95 L365.26,236.25 M365.26,232.95 L359.54,236.25" stroke="#111" stroke-width="1.7" stroke-linecap="butt"/>
<text class="noscale" x="407.5" y="208" font-size="15" fill="#1e1a1a">e</text>
<line x1="444.4" y1="232.4" x2="444.4" y2="356.3" stroke="#222" stroke-width="1"/>
<line x1="444.4" y1="356.3" x2="568.2" y2="356.3" stroke="#222" stroke-width="1"/>
<line x1="441" y1="356.3" x2="444.4" y2="356.3" stroke="#222" stroke-width="0.9"/>
<text transform="translate(438.3,360.5) scale(0.915,1)" font-size="10.93" text-anchor="end" fill="#1e1a1a">0</text>
<line x1="441" y1="325.325" x2="444.4" y2="325.325" stroke="#222" stroke-width="0.9"/>
<text transform="translate(438.3,329.525) scale(0.915,1)" font-size="10.93" text-anchor="end" fill="#1e1a1a">100</text>
<line x1="441" y1="294.35" x2="444.4" y2="294.35" stroke="#222" stroke-width="0.9"/>
<text transform="translate(438.3,298.55) scale(0.915,1)" font-size="10.93" text-anchor="end" fill="#1e1a1a">200</text>
<line x1="441" y1="263.375" x2="444.4" y2="263.375" stroke="#222" stroke-width="0.9"/>
<text transform="translate(438.3,267.575) scale(0.915,1)" font-size="10.93" text-anchor="end" fill="#1e1a1a">300</text>
<line x1="441" y1="232.4" x2="444.4" y2="232.4" stroke="#222" stroke-width="0.9"/>
<text transform="translate(438.3,236.6) scale(0.915,1)" font-size="10.93" text-anchor="end" fill="#1e1a1a">400</text>
<line x1="444.4" y1="356.3" x2="444.4" y2="359.3" stroke="#222" stroke-width="0.8"/>
<text transform="translate(444.4,370.2) scale(0.915,1)" font-size="10.93" text-anchor="middle" fill="#1e1a1a">0</text>
<line x1="450.59" y1="356.3" x2="450.59" y2="358.1" stroke="#222" stroke-width="0.8"/>
<line x1="456.78" y1="356.3" x2="456.78" y2="358.1" stroke="#222" stroke-width="0.8"/>
<line x1="462.96999999999997" y1="356.3" x2="462.96999999999997" y2="358.1" stroke="#222" stroke-width="0.8"/>
<line x1="469.15999999999997" y1="356.3" x2="469.15999999999997" y2="358.1" stroke="#222" stroke-width="0.8"/>
<line x1="475.34999999999997" y1="356.3" x2="475.34999999999997" y2="359.3" stroke="#222" stroke-width="0.8"/>
<text transform="translate(475.34999999999997,370.2) scale(0.915,1)" font-size="10.93" text-anchor="middle" fill="#1e1a1a">5</text>
<line x1="481.53999999999996" y1="356.3" x2="481.53999999999996" y2="358.1" stroke="#222" stroke-width="0.8"/>
<line x1="487.72999999999996" y1="356.3" x2="487.72999999999996" y2="358.1" stroke="#222" stroke-width="0.8"/>
<line x1="493.91999999999996" y1="356.3" x2="493.91999999999996" y2="358.1" stroke="#222" stroke-width="0.8"/>
<line x1="500.10999999999996" y1="356.3" x2="500.10999999999996" y2="358.1" stroke="#222" stroke-width="0.8"/>
<line x1="506.29999999999995" y1="356.3" x2="506.29999999999995" y2="359.3" stroke="#222" stroke-width="0.8"/>
<text transform="translate(506.29999999999995,370.2) scale(0.915,1)" font-size="10.93" text-anchor="middle" fill="#1e1a1a">10</text>
<line x1="512.49" y1="356.3" x2="512.49" y2="358.1" stroke="#222" stroke-width="0.8"/>
<line x1="518.68" y1="356.3" x2="518.68" y2="358.1" stroke="#222" stroke-width="0.8"/>
<line x1="524.87" y1="356.3" x2="524.87" y2="358.1" stroke="#222" stroke-width="0.8"/>
<line x1="531.06" y1="356.3" x2="531.06" y2="358.1" stroke="#222" stroke-width="0.8"/>
<line x1="537.25" y1="356.3" x2="537.25" y2="359.3" stroke="#222" stroke-width="0.8"/>
<text transform="translate(537.25,370.2) scale(0.915,1)" font-size="10.93" text-anchor="middle" fill="#1e1a1a">15</text>
<line x1="543.4399999999999" y1="356.3" x2="543.4399999999999" y2="358.1" stroke="#222" stroke-width="0.8"/>
<line x1="549.63" y1="356.3" x2="549.63" y2="358.1" stroke="#222" stroke-width="0.8"/>
<line x1="555.8199999999999" y1="356.3" x2="555.8199999999999" y2="358.1" stroke="#222" stroke-width="0.8"/>
<line x1="562.01" y1="356.3" x2="562.01" y2="358.1" stroke="#222" stroke-width="0.8"/>
<line x1="568.2" y1="356.3" x2="568.2" y2="359.3" stroke="#222" stroke-width="0.8"/>
<text transform="translate(568.2,370.2) scale(0.915,1)" font-size="10.93" text-anchor="middle" fill="#1e1a1a">20</text>
<text transform="translate(507,382) scale(0.915,1)" font-size="10.38" text-anchor="middle" fill="#1e1a1a">Days</text>
<text transform="translate(415.3,297.8) rotate(-90) scale(0.915,1)" font-size="9.84" text-anchor="middle" fill="#1e1a1a">Tumor volume (mm<tspan font-size="6" dy="-3">3</tspan><tspan dy="3">)</tspan></text>
<text transform="translate(518.9,239.2) scale(0.915,1)" font-size="10.16" text-anchor="middle" fill="#1e1a1a">anti-PD-1</text>
<line x1="499.5" y1="266.8" x2="499.5" y2="279.3" stroke="#111" stroke-width="0.8"/>
<path d="M496.9,277.3 L499.5,282.3 L502.1,277.3 Z" fill="#111"/>
<line x1="517.9" y1="256" x2="517.9" y2="268.5" stroke="#111" stroke-width="0.8"/>
<path d="M515.3,266.5 L517.9,271.5 L520.5,266.5 Z" fill="#111"/>
<line x1="536.6" y1="247.6" x2="536.6" y2="261.4" stroke="#111" stroke-width="0.8"/>
<path d="M534.0,259.4 L536.6,264.4 L539.2,259.4 Z" fill="#111"/>
<polyline points="444.4,356.3 481.53999999999996,343 500.10999999999996,319.7 518.68,313.6 537.25,312 549.63,326.4" fill="none" stroke="#189a85" stroke-width="1.2"/>
<circle cx="444.4" cy="356.3" r="2.6" fill="#189a85"/>
<circle cx="481.53999999999996" cy="343" r="2.6" fill="#189a85"/>
<circle cx="500.10999999999996" cy="319.7" r="2.6" fill="#189a85"/>
<circle cx="518.68" cy="313.6" r="2.6" fill="#189a85"/>
<circle cx="537.25" cy="312" r="2.6" fill="#189a85"/>
<line x1="549.63" y1="326.4" x2="549.63" y2="315.3" stroke="#189a85" stroke-width="1"/>
<line x1="547.03" y1="315.3" x2="552.23" y2="315.3" stroke="#189a85" stroke-width="1"/>
<circle cx="549.63" cy="326.4" r="2.6" fill="#189a85"/>
<polyline points="444.4,356.3 481.53999999999996,343.5 500.10999999999996,315.5 518.68,299.3 537.25,298.5 549.63,305.3" fill="none" stroke="#55b8d8" stroke-width="1.2"/>
<path d="M444.4,359.16 L447.39,353.96000000000004 L441.40999999999997,353.96000000000004 Z" fill="#55b8d8"/>
<path d="M481.53999999999996,346.36 L484.53,341.16 L478.54999999999995,341.16 Z" fill="#55b8d8"/>
<line x1="500.10999999999996" y1="315.5" x2="500.10999999999996" y2="306.3" stroke="#55b8d8" stroke-width="1"/>
<line x1="497.50999999999993" y1="306.3" x2="502.71" y2="306.3" stroke="#55b8d8" stroke-width="1"/>
<path d="M500.10999999999996,318.36 L503.09999999999997,313.16 L497.11999999999995,313.16 Z" fill="#55b8d8"/>
<line x1="518.68" y1="299.3" x2="518.68" y2="283.3" stroke="#55b8d8" stroke-width="1"/>
<line x1="516.0799999999999" y1="283.3" x2="521.28" y2="283.3" stroke="#55b8d8" stroke-width="1"/>
<path d="M518.68,302.16 L521.67,296.96000000000004 L515.6899999999999,296.96000000000004 Z" fill="#55b8d8"/>
<line x1="537.25" y1="298.5" x2="537.25" y2="294" stroke="#55b8d8" stroke-width="1"/>
<line x1="534.65" y1="294" x2="539.85" y2="294" stroke="#55b8d8" stroke-width="1"/>
<path d="M537.25,301.36 L540.24,296.16 L534.26,296.16 Z" fill="#55b8d8"/>
<line x1="549.63" y1="305.3" x2="549.63" y2="292.5" stroke="#55b8d8" stroke-width="1"/>
<line x1="547.03" y1="292.5" x2="552.23" y2="292.5" stroke="#55b8d8" stroke-width="1"/>
<path d="M549.63,308.16 L552.62,302.96000000000004 L546.64,302.96000000000004 Z" fill="#55b8d8"/>
<polyline points="444.4,356.3 481.53999999999996,344 500.10999999999996,320.7 518.68,309.7 537.25,302.5 549.63,294.8" fill="none" stroke="#f7941d" stroke-width="1.2"/>
<path d="M444.4,353.44 L447.39,358.64 L441.40999999999997,358.64 Z" fill="#f7941d"/>
<path d="M481.53999999999996,341.14 L484.53,346.34 L478.54999999999995,346.34 Z" fill="#f7941d"/>
<path d="M500.10999999999996,317.84 L503.09999999999997,323.03999999999996 L497.11999999999995,323.03999999999996 Z" fill="#f7941d"/>
<path d="M518.68,306.84 L521.67,312.03999999999996 L515.6899999999999,312.03999999999996 Z" fill="#f7941d"/>
<path d="M537.25,299.64 L540.24,304.84 L534.26,304.84 Z" fill="#f7941d"/>
<line x1="549.63" y1="294.8" x2="549.63" y2="276.6" stroke="#f7941d" stroke-width="1"/>
<line x1="547.03" y1="276.6" x2="552.23" y2="276.6" stroke="#f7941d" stroke-width="1"/>
<path d="M549.63,291.94 L552.62,297.14 L546.64,297.14 Z" fill="#f7941d"/>
<polyline points="444.4,356.3 481.53999999999996,342.4 500.10999999999996,313.5 518.68,299.2 537.25,283 549.63,271.2" fill="none" stroke="#c9483a" stroke-width="1.2"/>
<rect x="441.79999999999995" y="353.7" width="5.2" height="5.2" fill="#c9483a"/>
<rect x="478.93999999999994" y="339.79999999999995" width="5.2" height="5.2" fill="#c9483a"/>
<line x1="500.10999999999996" y1="313.5" x2="500.10999999999996" y2="296.1" stroke="#c9483a" stroke-width="1"/>
<line x1="497.50999999999993" y1="296.1" x2="502.71" y2="296.1" stroke="#c9483a" stroke-width="1"/>
<rect x="497.50999999999993" y="310.9" width="5.2" height="5.2" fill="#c9483a"/>
<line x1="518.68" y1="299.2" x2="518.68" y2="285" stroke="#c9483a" stroke-width="1"/>
<line x1="516.0799999999999" y1="285" x2="521.28" y2="285" stroke="#c9483a" stroke-width="1"/>
<rect x="516.0799999999999" y="296.59999999999997" width="5.2" height="5.2" fill="#c9483a"/>
<line x1="537.25" y1="283" x2="537.25" y2="271.2" stroke="#c9483a" stroke-width="1"/>
<line x1="534.65" y1="271.2" x2="539.85" y2="271.2" stroke="#c9483a" stroke-width="1"/>
<rect x="534.65" y="280.4" width="5.2" height="5.2" fill="#c9483a"/>
<line x1="549.63" y1="271.2" x2="549.63" y2="262.2" stroke="#c9483a" stroke-width="1"/>
<line x1="547.03" y1="262.2" x2="552.23" y2="262.2" stroke="#c9483a" stroke-width="1"/>
<rect x="547.03" y="268.59999999999997" width="5.2" height="5.2" fill="#c9483a"/>
<path d="M555.9,269.5 L558.5,269.5 L558.5,294.5 L555.9,294.5" fill="none" stroke="#333" stroke-width="0.8"/>
<path d="M567.9,269.5 L570.5,269.5 L570.5,303.5 L567.9,303.5" fill="none" stroke="#333" stroke-width="0.8"/>
<path d="M555.9,303.5 L558.5,303.5 L558.5,328.5 L555.9,328.5" fill="none" stroke="#333" stroke-width="0.8"/>
<path d="M573.9,294.5 L576.5,294.5 L576.5,329.5 L573.9,329.5" fill="none" stroke="#333" stroke-width="0.8"/>
<circle cx="561.6" cy="281.8" r="0.9" fill="#111"/>
<path d="M561.60,280.20 L561.60,283.40 M560.21,281.00 L562.99,282.60 M562.99,281.00 L560.21,282.60" stroke="#111" stroke-width="0.9" stroke-linecap="butt"/>
<circle cx="561.6" cy="315.3" r="0.9" fill="#111"/>
<path d="M561.60,313.70 L561.60,316.90 M560.21,314.50 L562.99,316.10 M562.99,314.50 L560.21,316.10" stroke="#111" stroke-width="0.9" stroke-linecap="butt"/>
<circle cx="574.4" cy="278.0" r="0.9" fill="#111"/>
<path d="M574.40,276.40 L574.40,279.60 M573.01,277.20 L575.79,278.80 M575.79,277.20 L573.01,278.80" stroke="#111" stroke-width="0.9" stroke-linecap="butt"/>
<circle cx="574.4" cy="282.6" r="0.9" fill="#111"/>
<path d="M574.40,281.00 L574.40,284.20 M573.01,281.80 L575.79,283.40 M575.79,281.80 L573.01,283.40" stroke="#111" stroke-width="0.9" stroke-linecap="butt"/>
<circle cx="574.4" cy="287.20000000000005" r="0.9" fill="#111"/>
<path d="M574.40,285.60 L574.40,288.80 M573.01,286.40 L575.79,288.00 M575.79,286.40 L573.01,288.00" stroke="#111" stroke-width="0.9" stroke-linecap="butt"/>
<circle cx="580.3" cy="307.29999999999995" r="0.9" fill="#111"/>
<path d="M580.30,305.70 L580.30,308.90 M578.91,306.50 L581.69,308.10 M581.69,306.50 L578.91,308.10" stroke="#111" stroke-width="0.9" stroke-linecap="butt"/>
<circle cx="580.3" cy="311.9" r="0.9" fill="#111"/>
<path d="M580.30,310.30 L580.30,313.50 M578.91,311.10 L581.69,312.70 M581.69,311.10 L578.91,312.70" stroke="#111" stroke-width="0.9" stroke-linecap="butt"/>
<circle cx="580.3" cy="316.5" r="0.9" fill="#111"/>
<path d="M580.30,314.90 L580.30,318.10 M578.91,315.70 L581.69,317.30 M581.69,315.70 L578.91,317.30" stroke="#111" stroke-width="0.9" stroke-linecap="butt"/>
<line x1="593.9" y1="241.7" x2="613.6" y2="241.7" stroke="#c9483a" stroke-width="1.2"/>
<rect x="601.0" y="239.0" width="5.4" height="5.4" fill="#c9483a"/>
<text transform="translate(619.8,245.1) scale(0.915,1)" font-size="10.38" fill="#1e1a1a">Contorl</text>
<line x1="593.9" y1="263.1" x2="613.6" y2="263.1" stroke="#f7941d" stroke-width="1.2"/>
<path d="M603.7,260.13 L606.8050000000001,265.53000000000003 L600.595,265.53000000000003 Z" fill="#f7941d"/>
<text transform="translate(619.8,266.5) scale(0.915,1)" font-size="10.38" fill="#1e1a1a">FMD</text>
<line x1="593.9" y1="284.5" x2="613.6" y2="284.5" stroke="#55b8d8" stroke-width="1.2"/>
<path d="M603.7,287.47 L606.8050000000001,282.07 L600.595,282.07 Z" fill="#55b8d8"/>
<text transform="translate(619.8,287.9) scale(0.915,1)" font-size="10.38" fill="#1e1a1a">anti-PD-1</text>
<line x1="593.9" y1="306.1" x2="613.6" y2="306.1" stroke="#189a85" stroke-width="1.2"/>
<circle cx="603.7" cy="306.1" r="2.7" fill="#189a85"/>
<text transform="translate(619.8,309.5) scale(0.915,1)" font-size="10.38" fill="#1e1a1a">FMD+anti-PD-1</text>
</svg></body></html>
